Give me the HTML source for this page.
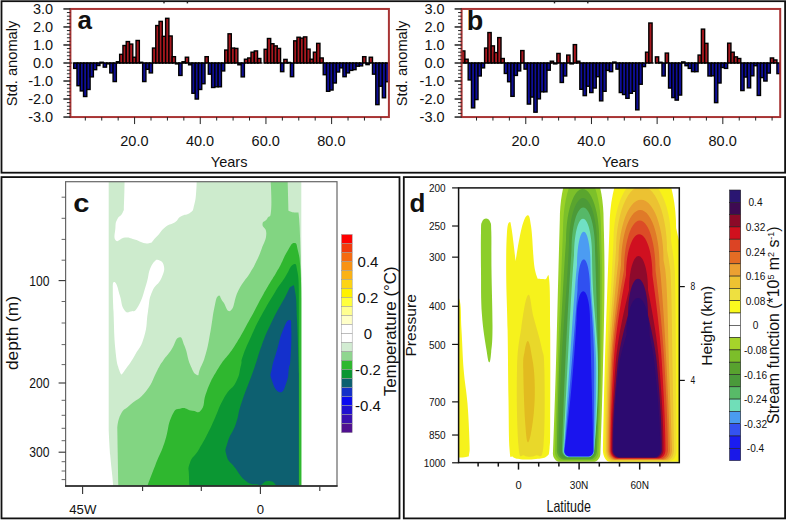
<!DOCTYPE html><html><head><meta charset="utf-8"><style>html,body{margin:0;padding:0;background:#fff;}svg{display:block;}</style></head><body>
<svg width="787" height="520" viewBox="0 0 787 520" font-family='"Liberation Sans", sans-serif' fill="#111">
<rect x="0" y="0" width="787" height="520" fill="#fff"/>
<rect x="1.5" y="1.2" width="783.6" height="171.5" fill="none" stroke="#111" stroke-width="1.8"/>
<rect x="1.5" y="177.1" width="398" height="341.3" fill="none" stroke="#111" stroke-width="1.8"/>
<rect x="403.8" y="177.1" width="381.3" height="341.3" fill="none" stroke="#111" stroke-width="1.8"/>
<rect x="163.3" y="1.8" width="1.4" height="1.6" fill="#222"/>
<rect x="186.7" y="1.8" width="1.4" height="1.6" fill="#222"/>
<rect x="553.8" y="1.8" width="1.4" height="1.6" fill="#222"/>
<rect x="587.1" y="1.8" width="1.4" height="1.6" fill="#222"/>
<rect x="73.68" y="63.00" width="3.28" height="5.40" fill="#0e0e98" stroke="#000" stroke-width="1.4"/>
<rect x="76.97" y="63.00" width="3.28" height="22.70" fill="#0e0e98" stroke="#000" stroke-width="1.4"/>
<rect x="80.25" y="63.00" width="3.28" height="27.93" fill="#0e0e98" stroke="#000" stroke-width="1.4"/>
<rect x="83.53" y="63.00" width="3.28" height="33.51" fill="#0e0e98" stroke="#000" stroke-width="1.4"/>
<rect x="86.82" y="63.00" width="3.28" height="26.48" fill="#0e0e98" stroke="#000" stroke-width="1.4"/>
<rect x="90.10" y="63.00" width="3.28" height="13.87" fill="#0e0e98" stroke="#000" stroke-width="1.4"/>
<rect x="93.38" y="63.00" width="3.28" height="6.67" fill="#0e0e98" stroke="#000" stroke-width="1.4"/>
<rect x="96.67" y="63.00" width="3.28" height="2.52" fill="#0e0e98" stroke="#000" stroke-width="1.4"/>
<rect x="99.95" y="62.28" width="3.28" height="0.72" fill="#a8181f" stroke="#000" stroke-width="1.4"/>
<rect x="103.24" y="63.00" width="3.28" height="4.14" fill="#0e0e98" stroke="#000" stroke-width="1.4"/>
<rect x="106.52" y="63.00" width="3.28" height="0.90" fill="#0e0e98" stroke="#000" stroke-width="1.4"/>
<rect x="109.80" y="63.00" width="3.28" height="9.91" fill="#0e0e98" stroke="#000" stroke-width="1.4"/>
<rect x="113.09" y="63.00" width="3.28" height="18.56" fill="#0e0e98" stroke="#000" stroke-width="1.4"/>
<rect x="116.37" y="61.74" width="3.28" height="1.26" fill="#a8181f" stroke="#000" stroke-width="1.4"/>
<rect x="119.65" y="54.35" width="3.28" height="8.65" fill="#a8181f" stroke="#000" stroke-width="1.4"/>
<rect x="122.94" y="45.52" width="3.28" height="17.48" fill="#a8181f" stroke="#000" stroke-width="1.4"/>
<rect x="126.22" y="41.56" width="3.28" height="21.44" fill="#a8181f" stroke="#000" stroke-width="1.4"/>
<rect x="129.50" y="44.08" width="3.28" height="18.92" fill="#a8181f" stroke="#000" stroke-width="1.4"/>
<rect x="132.79" y="57.23" width="3.28" height="5.77" fill="#a8181f" stroke="#000" stroke-width="1.4"/>
<rect x="136.07" y="40.48" width="3.28" height="22.52" fill="#a8181f" stroke="#000" stroke-width="1.4"/>
<rect x="139.35" y="62.28" width="3.28" height="0.72" fill="#a8181f" stroke="#000" stroke-width="1.4"/>
<rect x="142.64" y="63.00" width="3.28" height="18.56" fill="#0e0e98" stroke="#000" stroke-width="1.4"/>
<rect x="145.92" y="63.00" width="3.28" height="6.31" fill="#0e0e98" stroke="#000" stroke-width="1.4"/>
<rect x="149.20" y="63.00" width="3.28" height="9.91" fill="#0e0e98" stroke="#000" stroke-width="1.4"/>
<rect x="152.49" y="48.05" width="3.28" height="14.95" fill="#a8181f" stroke="#000" stroke-width="1.4"/>
<rect x="155.77" y="25.53" width="3.28" height="37.47" fill="#a8181f" stroke="#000" stroke-width="1.4"/>
<rect x="159.05" y="21.38" width="3.28" height="41.62" fill="#a8181f" stroke="#000" stroke-width="1.4"/>
<rect x="162.34" y="36.34" width="3.28" height="26.66" fill="#a8181f" stroke="#000" stroke-width="1.4"/>
<rect x="165.62" y="18.32" width="3.28" height="44.68" fill="#a8181f" stroke="#000" stroke-width="1.4"/>
<rect x="168.91" y="35.98" width="3.28" height="27.02" fill="#a8181f" stroke="#000" stroke-width="1.4"/>
<rect x="172.19" y="56.69" width="3.28" height="6.31" fill="#a8181f" stroke="#000" stroke-width="1.4"/>
<rect x="175.47" y="63.00" width="3.28" height="0.90" fill="#0e0e98" stroke="#000" stroke-width="1.4"/>
<rect x="178.76" y="63.00" width="3.28" height="12.43" fill="#0e0e98" stroke="#000" stroke-width="1.4"/>
<rect x="182.04" y="61.74" width="3.28" height="1.26" fill="#a8181f" stroke="#000" stroke-width="1.4"/>
<rect x="185.32" y="57.23" width="3.28" height="5.77" fill="#a8181f" stroke="#000" stroke-width="1.4"/>
<rect x="188.61" y="63.00" width="3.28" height="1.80" fill="#0e0e98" stroke="#000" stroke-width="1.4"/>
<rect x="191.89" y="63.00" width="3.28" height="30.27" fill="#0e0e98" stroke="#000" stroke-width="1.4"/>
<rect x="195.17" y="63.00" width="3.28" height="36.03" fill="#0e0e98" stroke="#000" stroke-width="1.4"/>
<rect x="198.46" y="63.00" width="3.28" height="26.48" fill="#0e0e98" stroke="#000" stroke-width="1.4"/>
<rect x="201.74" y="63.00" width="3.28" height="20.72" fill="#0e0e98" stroke="#000" stroke-width="1.4"/>
<rect x="205.02" y="56.69" width="3.28" height="6.31" fill="#a8181f" stroke="#000" stroke-width="1.4"/>
<rect x="208.31" y="63.00" width="3.28" height="11.17" fill="#0e0e98" stroke="#000" stroke-width="1.4"/>
<rect x="211.59" y="63.00" width="3.28" height="24.50" fill="#0e0e98" stroke="#000" stroke-width="1.4"/>
<rect x="214.87" y="63.00" width="3.28" height="23.78" fill="#0e0e98" stroke="#000" stroke-width="1.4"/>
<rect x="218.16" y="63.00" width="3.28" height="23.78" fill="#0e0e98" stroke="#000" stroke-width="1.4"/>
<rect x="221.44" y="63.00" width="3.28" height="7.93" fill="#0e0e98" stroke="#000" stroke-width="1.4"/>
<rect x="224.72" y="50.03" width="3.28" height="12.97" fill="#a8181f" stroke="#000" stroke-width="1.4"/>
<rect x="228.01" y="33.81" width="3.28" height="29.19" fill="#a8181f" stroke="#000" stroke-width="1.4"/>
<rect x="231.29" y="48.05" width="3.28" height="14.95" fill="#a8181f" stroke="#000" stroke-width="1.4"/>
<rect x="234.58" y="48.41" width="3.28" height="14.59" fill="#a8181f" stroke="#000" stroke-width="1.4"/>
<rect x="237.86" y="63.00" width="3.28" height="1.80" fill="#0e0e98" stroke="#000" stroke-width="1.4"/>
<rect x="241.14" y="63.00" width="3.28" height="13.87" fill="#0e0e98" stroke="#000" stroke-width="1.4"/>
<rect x="244.43" y="59.22" width="3.28" height="3.78" fill="#a8181f" stroke="#000" stroke-width="1.4"/>
<rect x="247.71" y="57.96" width="3.28" height="5.04" fill="#a8181f" stroke="#000" stroke-width="1.4"/>
<rect x="250.99" y="52.19" width="3.28" height="10.81" fill="#a8181f" stroke="#000" stroke-width="1.4"/>
<rect x="254.28" y="50.93" width="3.28" height="12.07" fill="#a8181f" stroke="#000" stroke-width="1.4"/>
<rect x="257.56" y="58.50" width="3.28" height="4.50" fill="#a8181f" stroke="#000" stroke-width="1.4"/>
<rect x="264.13" y="49.31" width="3.28" height="13.69" fill="#a8181f" stroke="#000" stroke-width="1.4"/>
<rect x="267.41" y="38.50" width="3.28" height="24.50" fill="#a8181f" stroke="#000" stroke-width="1.4"/>
<rect x="270.69" y="43.72" width="3.28" height="19.28" fill="#a8181f" stroke="#000" stroke-width="1.4"/>
<rect x="273.98" y="45.88" width="3.28" height="17.12" fill="#a8181f" stroke="#000" stroke-width="1.4"/>
<rect x="277.26" y="48.41" width="3.28" height="14.59" fill="#a8181f" stroke="#000" stroke-width="1.4"/>
<rect x="280.54" y="63.00" width="3.28" height="8.65" fill="#0e0e98" stroke="#000" stroke-width="1.4"/>
<rect x="283.83" y="59.40" width="3.28" height="3.60" fill="#a8181f" stroke="#000" stroke-width="1.4"/>
<rect x="287.11" y="62.46" width="3.28" height="0.54" fill="#a8181f" stroke="#000" stroke-width="1.4"/>
<rect x="290.39" y="63.00" width="3.28" height="13.69" fill="#0e0e98" stroke="#000" stroke-width="1.4"/>
<rect x="293.68" y="40.84" width="3.28" height="22.16" fill="#a8181f" stroke="#000" stroke-width="1.4"/>
<rect x="296.96" y="37.24" width="3.28" height="25.76" fill="#a8181f" stroke="#000" stroke-width="1.4"/>
<rect x="300.25" y="38.14" width="3.28" height="24.86" fill="#a8181f" stroke="#000" stroke-width="1.4"/>
<rect x="303.53" y="36.88" width="3.28" height="26.12" fill="#a8181f" stroke="#000" stroke-width="1.4"/>
<rect x="306.81" y="49.13" width="3.28" height="13.87" fill="#a8181f" stroke="#000" stroke-width="1.4"/>
<rect x="310.10" y="59.22" width="3.28" height="3.78" fill="#a8181f" stroke="#000" stroke-width="1.4"/>
<rect x="313.38" y="52.19" width="3.28" height="10.81" fill="#a8181f" stroke="#000" stroke-width="1.4"/>
<rect x="316.66" y="43.36" width="3.28" height="19.64" fill="#a8181f" stroke="#000" stroke-width="1.4"/>
<rect x="319.95" y="57.96" width="3.28" height="5.04" fill="#a8181f" stroke="#000" stroke-width="1.4"/>
<rect x="323.23" y="63.00" width="3.28" height="11.71" fill="#0e0e98" stroke="#000" stroke-width="1.4"/>
<rect x="326.51" y="63.00" width="3.28" height="28.29" fill="#0e0e98" stroke="#000" stroke-width="1.4"/>
<rect x="329.80" y="63.00" width="3.28" height="27.02" fill="#0e0e98" stroke="#000" stroke-width="1.4"/>
<rect x="333.08" y="63.00" width="3.28" height="20.00" fill="#0e0e98" stroke="#000" stroke-width="1.4"/>
<rect x="336.36" y="63.00" width="3.28" height="9.01" fill="#0e0e98" stroke="#000" stroke-width="1.4"/>
<rect x="339.65" y="63.00" width="3.28" height="4.86" fill="#0e0e98" stroke="#000" stroke-width="1.4"/>
<rect x="342.93" y="63.00" width="3.28" height="13.69" fill="#0e0e98" stroke="#000" stroke-width="1.4"/>
<rect x="346.21" y="63.00" width="3.28" height="9.91" fill="#0e0e98" stroke="#000" stroke-width="1.4"/>
<rect x="349.50" y="63.00" width="3.28" height="7.39" fill="#0e0e98" stroke="#000" stroke-width="1.4"/>
<rect x="352.78" y="63.00" width="3.28" height="6.67" fill="#0e0e98" stroke="#000" stroke-width="1.4"/>
<rect x="356.06" y="63.00" width="3.28" height="3.24" fill="#0e0e98" stroke="#000" stroke-width="1.4"/>
<rect x="359.35" y="63.00" width="3.28" height="2.88" fill="#0e0e98" stroke="#000" stroke-width="1.4"/>
<rect x="362.63" y="56.69" width="3.28" height="6.31" fill="#a8181f" stroke="#000" stroke-width="1.4"/>
<rect x="365.92" y="63.00" width="3.28" height="1.62" fill="#0e0e98" stroke="#000" stroke-width="1.4"/>
<rect x="369.20" y="57.23" width="3.28" height="5.77" fill="#a8181f" stroke="#000" stroke-width="1.4"/>
<rect x="372.48" y="63.00" width="3.28" height="11.17" fill="#0e0e98" stroke="#000" stroke-width="1.4"/>
<rect x="375.77" y="63.00" width="3.28" height="41.62" fill="#0e0e98" stroke="#000" stroke-width="1.4"/>
<rect x="379.05" y="63.00" width="3.28" height="23.24" fill="#0e0e98" stroke="#000" stroke-width="1.4"/>
<rect x="382.33" y="63.00" width="3.28" height="34.77" fill="#0e0e98" stroke="#000" stroke-width="1.4"/>
<rect x="385.62" y="63.00" width="3.28" height="18.74" fill="#0e0e98" stroke="#000" stroke-width="1.4"/>
<line x1="70.4" y1="63.00" x2="388.9" y2="63.00" stroke="#000" stroke-width="1" stroke-dasharray="1.97 1.31"/>
<rect x="70.4" y="8.95" width="318.50" height="108.10" fill="none" stroke="#a83434" stroke-width="2"/>
<line x1="63.400000000000006" y1="8.95" x2="70.4" y2="8.95" stroke="#222" stroke-width="1.5"/>
<line x1="66.9" y1="12.55" x2="70.4" y2="12.55" stroke="#222" stroke-width="1.0"/>
<line x1="66.9" y1="16.16" x2="70.4" y2="16.16" stroke="#222" stroke-width="1.0"/>
<line x1="66.9" y1="19.76" x2="70.4" y2="19.76" stroke="#222" stroke-width="1.0"/>
<line x1="66.9" y1="23.36" x2="70.4" y2="23.36" stroke="#222" stroke-width="1.0"/>
<line x1="63.400000000000006" y1="26.97" x2="70.4" y2="26.97" stroke="#222" stroke-width="1.5"/>
<line x1="66.9" y1="30.57" x2="70.4" y2="30.57" stroke="#222" stroke-width="1.0"/>
<line x1="66.9" y1="34.17" x2="70.4" y2="34.17" stroke="#222" stroke-width="1.0"/>
<line x1="66.9" y1="37.78" x2="70.4" y2="37.78" stroke="#222" stroke-width="1.0"/>
<line x1="66.9" y1="41.38" x2="70.4" y2="41.38" stroke="#222" stroke-width="1.0"/>
<line x1="63.400000000000006" y1="44.98" x2="70.4" y2="44.98" stroke="#222" stroke-width="1.5"/>
<line x1="66.9" y1="48.59" x2="70.4" y2="48.59" stroke="#222" stroke-width="1.0"/>
<line x1="66.9" y1="52.19" x2="70.4" y2="52.19" stroke="#222" stroke-width="1.0"/>
<line x1="66.9" y1="55.79" x2="70.4" y2="55.79" stroke="#222" stroke-width="1.0"/>
<line x1="66.9" y1="59.40" x2="70.4" y2="59.40" stroke="#222" stroke-width="1.0"/>
<line x1="63.400000000000006" y1="63.00" x2="70.4" y2="63.00" stroke="#222" stroke-width="1.5"/>
<line x1="66.9" y1="66.60" x2="70.4" y2="66.60" stroke="#222" stroke-width="1.0"/>
<line x1="66.9" y1="70.21" x2="70.4" y2="70.21" stroke="#222" stroke-width="1.0"/>
<line x1="66.9" y1="73.81" x2="70.4" y2="73.81" stroke="#222" stroke-width="1.0"/>
<line x1="66.9" y1="77.41" x2="70.4" y2="77.41" stroke="#222" stroke-width="1.0"/>
<line x1="63.400000000000006" y1="81.02" x2="70.4" y2="81.02" stroke="#222" stroke-width="1.5"/>
<line x1="66.9" y1="84.62" x2="70.4" y2="84.62" stroke="#222" stroke-width="1.0"/>
<line x1="66.9" y1="88.22" x2="70.4" y2="88.22" stroke="#222" stroke-width="1.0"/>
<line x1="66.9" y1="91.83" x2="70.4" y2="91.83" stroke="#222" stroke-width="1.0"/>
<line x1="66.9" y1="95.43" x2="70.4" y2="95.43" stroke="#222" stroke-width="1.0"/>
<line x1="63.400000000000006" y1="99.03" x2="70.4" y2="99.03" stroke="#222" stroke-width="1.5"/>
<line x1="66.9" y1="102.64" x2="70.4" y2="102.64" stroke="#222" stroke-width="1.0"/>
<line x1="66.9" y1="106.24" x2="70.4" y2="106.24" stroke="#222" stroke-width="1.0"/>
<line x1="66.9" y1="109.84" x2="70.4" y2="109.84" stroke="#222" stroke-width="1.0"/>
<line x1="66.9" y1="113.45" x2="70.4" y2="113.45" stroke="#222" stroke-width="1.0"/>
<line x1="63.400000000000006" y1="117.05" x2="70.4" y2="117.05" stroke="#222" stroke-width="1.5"/>
<text x="53.2" y="13.95" text-anchor="end" font-size="14.5">3.0</text>
<text x="53.2" y="31.97" text-anchor="end" font-size="14.5">2.0</text>
<text x="53.2" y="49.98" text-anchor="end" font-size="14.5">1.0</text>
<text x="53.2" y="68.00" text-anchor="end" font-size="14.5">0.0</text>
<text x="53.2" y="86.02" text-anchor="end" font-size="14.5">-1.0</text>
<text x="53.2" y="104.03" text-anchor="end" font-size="14.5">-2.0</text>
<text x="53.2" y="122.05" text-anchor="end" font-size="14.5">-3.0</text>
<line x1="85.32" y1="117.05" x2="85.32" y2="120.55" stroke="#222" stroke-width="1"/>
<line x1="101.74" y1="117.05" x2="101.74" y2="120.55" stroke="#222" stroke-width="1"/>
<line x1="118.16" y1="117.05" x2="118.16" y2="120.55" stroke="#222" stroke-width="1"/>
<line x1="134.58" y1="117.05" x2="134.58" y2="124.05" stroke="#222" stroke-width="1"/>
<text x="134.38" y="146.2" text-anchor="middle" font-size="14.5">20.0</text>
<line x1="151.00" y1="117.05" x2="151.00" y2="120.55" stroke="#222" stroke-width="1"/>
<line x1="167.42" y1="117.05" x2="167.42" y2="120.55" stroke="#222" stroke-width="1"/>
<line x1="183.84" y1="117.05" x2="183.84" y2="120.55" stroke="#222" stroke-width="1"/>
<line x1="200.26" y1="117.05" x2="200.26" y2="124.05" stroke="#222" stroke-width="1"/>
<text x="200.06" y="146.2" text-anchor="middle" font-size="14.5">40.0</text>
<line x1="216.68" y1="117.05" x2="216.68" y2="120.55" stroke="#222" stroke-width="1"/>
<line x1="233.10" y1="117.05" x2="233.10" y2="120.55" stroke="#222" stroke-width="1"/>
<line x1="249.52" y1="117.05" x2="249.52" y2="120.55" stroke="#222" stroke-width="1"/>
<line x1="265.94" y1="117.05" x2="265.94" y2="124.05" stroke="#222" stroke-width="1"/>
<text x="265.74" y="146.2" text-anchor="middle" font-size="14.5">60.0</text>
<line x1="282.36" y1="117.05" x2="282.36" y2="120.55" stroke="#222" stroke-width="1"/>
<line x1="298.78" y1="117.05" x2="298.78" y2="120.55" stroke="#222" stroke-width="1"/>
<line x1="315.20" y1="117.05" x2="315.20" y2="120.55" stroke="#222" stroke-width="1"/>
<line x1="331.62" y1="117.05" x2="331.62" y2="124.05" stroke="#222" stroke-width="1"/>
<text x="331.42" y="146.2" text-anchor="middle" font-size="14.5">80.0</text>
<line x1="348.04" y1="117.05" x2="348.04" y2="120.55" stroke="#222" stroke-width="1"/>
<line x1="364.46" y1="117.05" x2="364.46" y2="120.55" stroke="#222" stroke-width="1"/>
<line x1="380.88" y1="117.05" x2="380.88" y2="120.55" stroke="#222" stroke-width="1"/>
<text x="229.15" y="167.4" text-anchor="middle" font-size="14.5">Years</text>
<text transform="translate(17.2,63.4) rotate(-90)" text-anchor="middle" font-size="15.3" textLength="85.5" lengthAdjust="spacingAndGlyphs">Std. anomaly</text>
<text x="77.40" y="28.8" font-size="26" font-weight="bold">a</text>
<rect x="461.60" y="50.93" width="3.28" height="12.07" fill="#a8181f" stroke="#000" stroke-width="1.4"/>
<rect x="464.88" y="59.22" width="3.28" height="3.78" fill="#a8181f" stroke="#000" stroke-width="1.4"/>
<rect x="468.17" y="63.00" width="3.28" height="16.94" fill="#0e0e98" stroke="#000" stroke-width="1.4"/>
<rect x="471.45" y="63.00" width="3.28" height="44.86" fill="#0e0e98" stroke="#000" stroke-width="1.4"/>
<rect x="474.74" y="63.00" width="3.28" height="36.57" fill="#0e0e98" stroke="#000" stroke-width="1.4"/>
<rect x="478.02" y="63.00" width="3.28" height="12.97" fill="#0e0e98" stroke="#000" stroke-width="1.4"/>
<rect x="481.31" y="63.00" width="3.28" height="4.86" fill="#0e0e98" stroke="#000" stroke-width="1.4"/>
<rect x="484.59" y="48.05" width="3.28" height="14.95" fill="#a8181f" stroke="#000" stroke-width="1.4"/>
<rect x="487.88" y="32.55" width="3.28" height="30.45" fill="#a8181f" stroke="#000" stroke-width="1.4"/>
<rect x="491.16" y="45.88" width="3.28" height="17.12" fill="#a8181f" stroke="#000" stroke-width="1.4"/>
<rect x="494.45" y="52.55" width="3.28" height="10.45" fill="#a8181f" stroke="#000" stroke-width="1.4"/>
<rect x="497.73" y="37.60" width="3.28" height="25.40" fill="#a8181f" stroke="#000" stroke-width="1.4"/>
<rect x="501.01" y="58.50" width="3.28" height="4.50" fill="#a8181f" stroke="#000" stroke-width="1.4"/>
<rect x="504.30" y="63.00" width="3.28" height="10.45" fill="#0e0e98" stroke="#000" stroke-width="1.4"/>
<rect x="507.58" y="63.00" width="3.28" height="18.74" fill="#0e0e98" stroke="#000" stroke-width="1.4"/>
<rect x="510.87" y="63.00" width="3.28" height="33.33" fill="#0e0e98" stroke="#000" stroke-width="1.4"/>
<rect x="514.15" y="63.00" width="3.28" height="12.43" fill="#0e0e98" stroke="#000" stroke-width="1.4"/>
<rect x="517.44" y="63.00" width="3.28" height="7.93" fill="#0e0e98" stroke="#000" stroke-width="1.4"/>
<rect x="520.72" y="50.57" width="3.28" height="12.43" fill="#a8181f" stroke="#000" stroke-width="1.4"/>
<rect x="524.01" y="63.00" width="3.28" height="6.13" fill="#0e0e98" stroke="#000" stroke-width="1.4"/>
<rect x="527.29" y="63.00" width="3.28" height="41.08" fill="#0e0e98" stroke="#000" stroke-width="1.4"/>
<rect x="530.58" y="63.00" width="3.28" height="34.05" fill="#0e0e98" stroke="#000" stroke-width="1.4"/>
<rect x="533.86" y="63.00" width="3.28" height="49.19" fill="#0e0e98" stroke="#000" stroke-width="1.4"/>
<rect x="537.14" y="63.00" width="3.28" height="35.85" fill="#0e0e98" stroke="#000" stroke-width="1.4"/>
<rect x="540.43" y="63.00" width="3.28" height="28.83" fill="#0e0e98" stroke="#000" stroke-width="1.4"/>
<rect x="543.71" y="63.00" width="3.28" height="28.83" fill="#0e0e98" stroke="#000" stroke-width="1.4"/>
<rect x="547.00" y="63.00" width="3.28" height="7.21" fill="#0e0e98" stroke="#000" stroke-width="1.4"/>
<rect x="550.28" y="61.20" width="3.28" height="1.80" fill="#a8181f" stroke="#000" stroke-width="1.4"/>
<rect x="553.57" y="63.00" width="3.28" height="0.90" fill="#0e0e98" stroke="#000" stroke-width="1.4"/>
<rect x="556.85" y="53.45" width="3.28" height="9.55" fill="#a8181f" stroke="#000" stroke-width="1.4"/>
<rect x="560.14" y="63.00" width="3.28" height="19.46" fill="#0e0e98" stroke="#000" stroke-width="1.4"/>
<rect x="563.42" y="63.00" width="3.28" height="12.97" fill="#0e0e98" stroke="#000" stroke-width="1.4"/>
<rect x="566.71" y="55.07" width="3.28" height="7.93" fill="#a8181f" stroke="#000" stroke-width="1.4"/>
<rect x="569.99" y="63.00" width="3.28" height="0.90" fill="#0e0e98" stroke="#000" stroke-width="1.4"/>
<rect x="573.27" y="44.62" width="3.28" height="18.38" fill="#a8181f" stroke="#000" stroke-width="1.4"/>
<rect x="576.56" y="61.20" width="3.28" height="1.80" fill="#a8181f" stroke="#000" stroke-width="1.4"/>
<rect x="579.84" y="63.00" width="3.28" height="26.30" fill="#0e0e98" stroke="#000" stroke-width="1.4"/>
<rect x="583.13" y="63.00" width="3.28" height="32.61" fill="#0e0e98" stroke="#000" stroke-width="1.4"/>
<rect x="586.41" y="63.00" width="3.28" height="23.24" fill="#0e0e98" stroke="#000" stroke-width="1.4"/>
<rect x="589.70" y="63.00" width="3.28" height="29.55" fill="#0e0e98" stroke="#000" stroke-width="1.4"/>
<rect x="592.98" y="63.00" width="3.28" height="25.04" fill="#0e0e98" stroke="#000" stroke-width="1.4"/>
<rect x="596.27" y="63.00" width="3.28" height="13.69" fill="#0e0e98" stroke="#000" stroke-width="1.4"/>
<rect x="599.55" y="63.00" width="3.28" height="37.84" fill="#0e0e98" stroke="#000" stroke-width="1.4"/>
<rect x="602.84" y="63.00" width="3.28" height="28.29" fill="#0e0e98" stroke="#000" stroke-width="1.4"/>
<rect x="606.12" y="63.00" width="3.28" height="7.39" fill="#0e0e98" stroke="#000" stroke-width="1.4"/>
<rect x="609.40" y="63.00" width="3.28" height="8.65" fill="#0e0e98" stroke="#000" stroke-width="1.4"/>
<rect x="612.69" y="62.10" width="3.28" height="0.90" fill="#a8181f" stroke="#000" stroke-width="1.4"/>
<rect x="615.97" y="63.00" width="3.28" height="6.13" fill="#0e0e98" stroke="#000" stroke-width="1.4"/>
<rect x="619.26" y="63.00" width="3.28" height="29.55" fill="#0e0e98" stroke="#000" stroke-width="1.4"/>
<rect x="622.54" y="63.00" width="3.28" height="31.53" fill="#0e0e98" stroke="#000" stroke-width="1.4"/>
<rect x="625.83" y="63.00" width="3.28" height="35.31" fill="#0e0e98" stroke="#000" stroke-width="1.4"/>
<rect x="629.11" y="63.00" width="3.28" height="30.27" fill="#0e0e98" stroke="#000" stroke-width="1.4"/>
<rect x="632.40" y="63.00" width="3.28" height="28.29" fill="#0e0e98" stroke="#000" stroke-width="1.4"/>
<rect x="635.68" y="63.00" width="3.28" height="46.84" fill="#0e0e98" stroke="#000" stroke-width="1.4"/>
<rect x="638.96" y="63.00" width="3.28" height="21.26" fill="#0e0e98" stroke="#000" stroke-width="1.4"/>
<rect x="642.25" y="63.00" width="3.28" height="3.60" fill="#0e0e98" stroke="#000" stroke-width="1.4"/>
<rect x="645.53" y="52.19" width="3.28" height="10.81" fill="#a8181f" stroke="#000" stroke-width="1.4"/>
<rect x="648.82" y="23.00" width="3.28" height="40.00" fill="#a8181f" stroke="#000" stroke-width="1.4"/>
<rect x="655.39" y="56.87" width="3.28" height="6.13" fill="#a8181f" stroke="#000" stroke-width="1.4"/>
<rect x="658.67" y="62.28" width="3.28" height="0.72" fill="#a8181f" stroke="#000" stroke-width="1.4"/>
<rect x="661.96" y="63.00" width="3.28" height="12.97" fill="#0e0e98" stroke="#000" stroke-width="1.4"/>
<rect x="665.24" y="53.09" width="3.28" height="9.91" fill="#a8181f" stroke="#000" stroke-width="1.4"/>
<rect x="668.53" y="63.00" width="3.28" height="25.04" fill="#0e0e98" stroke="#000" stroke-width="1.4"/>
<rect x="671.81" y="63.00" width="3.28" height="34.59" fill="#0e0e98" stroke="#000" stroke-width="1.4"/>
<rect x="675.09" y="63.00" width="3.28" height="37.11" fill="#0e0e98" stroke="#000" stroke-width="1.4"/>
<rect x="678.38" y="63.00" width="3.28" height="32.07" fill="#0e0e98" stroke="#000" stroke-width="1.4"/>
<rect x="681.66" y="61.92" width="3.28" height="1.08" fill="#a8181f" stroke="#000" stroke-width="1.4"/>
<rect x="684.95" y="63.00" width="3.28" height="2.70" fill="#0e0e98" stroke="#000" stroke-width="1.4"/>
<rect x="688.23" y="63.00" width="3.28" height="5.40" fill="#0e0e98" stroke="#000" stroke-width="1.4"/>
<rect x="691.52" y="63.00" width="3.28" height="8.65" fill="#0e0e98" stroke="#000" stroke-width="1.4"/>
<rect x="694.80" y="63.00" width="3.28" height="8.65" fill="#0e0e98" stroke="#000" stroke-width="1.4"/>
<rect x="698.09" y="55.07" width="3.28" height="7.93" fill="#a8181f" stroke="#000" stroke-width="1.4"/>
<rect x="701.37" y="29.13" width="3.28" height="33.87" fill="#a8181f" stroke="#000" stroke-width="1.4"/>
<rect x="704.66" y="43.36" width="3.28" height="19.64" fill="#a8181f" stroke="#000" stroke-width="1.4"/>
<rect x="707.94" y="63.00" width="3.28" height="12.97" fill="#0e0e98" stroke="#000" stroke-width="1.4"/>
<rect x="711.22" y="63.00" width="3.28" height="12.79" fill="#0e0e98" stroke="#000" stroke-width="1.4"/>
<rect x="714.51" y="63.00" width="3.28" height="39.64" fill="#0e0e98" stroke="#000" stroke-width="1.4"/>
<rect x="717.79" y="63.00" width="3.28" height="20.00" fill="#0e0e98" stroke="#000" stroke-width="1.4"/>
<rect x="721.08" y="63.00" width="3.28" height="4.50" fill="#0e0e98" stroke="#000" stroke-width="1.4"/>
<rect x="724.36" y="63.00" width="3.28" height="5.40" fill="#0e0e98" stroke="#000" stroke-width="1.4"/>
<rect x="727.65" y="43.18" width="3.28" height="19.82" fill="#a8181f" stroke="#000" stroke-width="1.4"/>
<rect x="730.93" y="52.19" width="3.28" height="10.81" fill="#a8181f" stroke="#000" stroke-width="1.4"/>
<rect x="734.22" y="56.87" width="3.28" height="6.13" fill="#a8181f" stroke="#000" stroke-width="1.4"/>
<rect x="737.50" y="58.50" width="3.28" height="4.50" fill="#a8181f" stroke="#000" stroke-width="1.4"/>
<rect x="740.79" y="63.00" width="3.28" height="27.57" fill="#0e0e98" stroke="#000" stroke-width="1.4"/>
<rect x="744.07" y="63.00" width="3.28" height="14.05" fill="#0e0e98" stroke="#000" stroke-width="1.4"/>
<rect x="747.35" y="63.00" width="3.28" height="24.86" fill="#0e0e98" stroke="#000" stroke-width="1.4"/>
<rect x="750.64" y="63.00" width="3.28" height="12.79" fill="#0e0e98" stroke="#000" stroke-width="1.4"/>
<rect x="753.92" y="63.00" width="3.28" height="2.70" fill="#0e0e98" stroke="#000" stroke-width="1.4"/>
<rect x="757.21" y="63.00" width="3.28" height="32.43" fill="#0e0e98" stroke="#000" stroke-width="1.4"/>
<rect x="760.49" y="63.00" width="3.28" height="14.59" fill="#0e0e98" stroke="#000" stroke-width="1.4"/>
<rect x="763.78" y="63.00" width="3.28" height="18.02" fill="#0e0e98" stroke="#000" stroke-width="1.4"/>
<rect x="767.06" y="63.00" width="3.28" height="10.09" fill="#0e0e98" stroke="#000" stroke-width="1.4"/>
<rect x="770.35" y="57.96" width="3.28" height="5.04" fill="#a8181f" stroke="#000" stroke-width="1.4"/>
<rect x="773.63" y="59.94" width="3.28" height="3.06" fill="#a8181f" stroke="#000" stroke-width="1.4"/>
<rect x="776.92" y="63.00" width="3.28" height="10.63" fill="#0e0e98" stroke="#000" stroke-width="1.4"/>
<line x1="461.6" y1="63.00" x2="780.2" y2="63.00" stroke="#000" stroke-width="1" stroke-dasharray="1.97 1.31"/>
<rect x="461.6" y="8.95" width="318.60" height="108.10" fill="none" stroke="#a83434" stroke-width="2"/>
<line x1="454.6" y1="8.95" x2="461.6" y2="8.95" stroke="#222" stroke-width="1.5"/>
<line x1="458.1" y1="12.55" x2="461.6" y2="12.55" stroke="#222" stroke-width="1.0"/>
<line x1="458.1" y1="16.16" x2="461.6" y2="16.16" stroke="#222" stroke-width="1.0"/>
<line x1="458.1" y1="19.76" x2="461.6" y2="19.76" stroke="#222" stroke-width="1.0"/>
<line x1="458.1" y1="23.36" x2="461.6" y2="23.36" stroke="#222" stroke-width="1.0"/>
<line x1="454.6" y1="26.97" x2="461.6" y2="26.97" stroke="#222" stroke-width="1.5"/>
<line x1="458.1" y1="30.57" x2="461.6" y2="30.57" stroke="#222" stroke-width="1.0"/>
<line x1="458.1" y1="34.17" x2="461.6" y2="34.17" stroke="#222" stroke-width="1.0"/>
<line x1="458.1" y1="37.78" x2="461.6" y2="37.78" stroke="#222" stroke-width="1.0"/>
<line x1="458.1" y1="41.38" x2="461.6" y2="41.38" stroke="#222" stroke-width="1.0"/>
<line x1="454.6" y1="44.98" x2="461.6" y2="44.98" stroke="#222" stroke-width="1.5"/>
<line x1="458.1" y1="48.59" x2="461.6" y2="48.59" stroke="#222" stroke-width="1.0"/>
<line x1="458.1" y1="52.19" x2="461.6" y2="52.19" stroke="#222" stroke-width="1.0"/>
<line x1="458.1" y1="55.79" x2="461.6" y2="55.79" stroke="#222" stroke-width="1.0"/>
<line x1="458.1" y1="59.40" x2="461.6" y2="59.40" stroke="#222" stroke-width="1.0"/>
<line x1="454.6" y1="63.00" x2="461.6" y2="63.00" stroke="#222" stroke-width="1.5"/>
<line x1="458.1" y1="66.60" x2="461.6" y2="66.60" stroke="#222" stroke-width="1.0"/>
<line x1="458.1" y1="70.21" x2="461.6" y2="70.21" stroke="#222" stroke-width="1.0"/>
<line x1="458.1" y1="73.81" x2="461.6" y2="73.81" stroke="#222" stroke-width="1.0"/>
<line x1="458.1" y1="77.41" x2="461.6" y2="77.41" stroke="#222" stroke-width="1.0"/>
<line x1="454.6" y1="81.02" x2="461.6" y2="81.02" stroke="#222" stroke-width="1.5"/>
<line x1="458.1" y1="84.62" x2="461.6" y2="84.62" stroke="#222" stroke-width="1.0"/>
<line x1="458.1" y1="88.22" x2="461.6" y2="88.22" stroke="#222" stroke-width="1.0"/>
<line x1="458.1" y1="91.83" x2="461.6" y2="91.83" stroke="#222" stroke-width="1.0"/>
<line x1="458.1" y1="95.43" x2="461.6" y2="95.43" stroke="#222" stroke-width="1.0"/>
<line x1="454.6" y1="99.03" x2="461.6" y2="99.03" stroke="#222" stroke-width="1.5"/>
<line x1="458.1" y1="102.64" x2="461.6" y2="102.64" stroke="#222" stroke-width="1.0"/>
<line x1="458.1" y1="106.24" x2="461.6" y2="106.24" stroke="#222" stroke-width="1.0"/>
<line x1="458.1" y1="109.84" x2="461.6" y2="109.84" stroke="#222" stroke-width="1.0"/>
<line x1="458.1" y1="113.45" x2="461.6" y2="113.45" stroke="#222" stroke-width="1.0"/>
<line x1="454.6" y1="117.05" x2="461.6" y2="117.05" stroke="#222" stroke-width="1.5"/>
<text x="444.6" y="13.95" text-anchor="end" font-size="14.5">3.0</text>
<text x="444.6" y="31.97" text-anchor="end" font-size="14.5">2.0</text>
<text x="444.6" y="49.98" text-anchor="end" font-size="14.5">1.0</text>
<text x="444.6" y="68.00" text-anchor="end" font-size="14.5">0.0</text>
<text x="444.6" y="86.02" text-anchor="end" font-size="14.5">-1.0</text>
<text x="444.6" y="104.03" text-anchor="end" font-size="14.5">-2.0</text>
<text x="444.6" y="122.05" text-anchor="end" font-size="14.5">-3.0</text>
<line x1="476.52" y1="117.05" x2="476.52" y2="120.55" stroke="#222" stroke-width="1"/>
<line x1="492.94" y1="117.05" x2="492.94" y2="120.55" stroke="#222" stroke-width="1"/>
<line x1="509.36" y1="117.05" x2="509.36" y2="120.55" stroke="#222" stroke-width="1"/>
<line x1="525.78" y1="117.05" x2="525.78" y2="124.05" stroke="#222" stroke-width="1"/>
<text x="525.58" y="146.2" text-anchor="middle" font-size="14.5">20.0</text>
<line x1="542.20" y1="117.05" x2="542.20" y2="120.55" stroke="#222" stroke-width="1"/>
<line x1="558.62" y1="117.05" x2="558.62" y2="120.55" stroke="#222" stroke-width="1"/>
<line x1="575.04" y1="117.05" x2="575.04" y2="120.55" stroke="#222" stroke-width="1"/>
<line x1="591.46" y1="117.05" x2="591.46" y2="124.05" stroke="#222" stroke-width="1"/>
<text x="591.26" y="146.2" text-anchor="middle" font-size="14.5">40.0</text>
<line x1="607.88" y1="117.05" x2="607.88" y2="120.55" stroke="#222" stroke-width="1"/>
<line x1="624.30" y1="117.05" x2="624.30" y2="120.55" stroke="#222" stroke-width="1"/>
<line x1="640.72" y1="117.05" x2="640.72" y2="120.55" stroke="#222" stroke-width="1"/>
<line x1="657.14" y1="117.05" x2="657.14" y2="124.05" stroke="#222" stroke-width="1"/>
<text x="656.94" y="146.2" text-anchor="middle" font-size="14.5">60.0</text>
<line x1="673.56" y1="117.05" x2="673.56" y2="120.55" stroke="#222" stroke-width="1"/>
<line x1="689.98" y1="117.05" x2="689.98" y2="120.55" stroke="#222" stroke-width="1"/>
<line x1="706.40" y1="117.05" x2="706.40" y2="120.55" stroke="#222" stroke-width="1"/>
<line x1="722.82" y1="117.05" x2="722.82" y2="124.05" stroke="#222" stroke-width="1"/>
<text x="722.62" y="146.2" text-anchor="middle" font-size="14.5">80.0</text>
<line x1="739.24" y1="117.05" x2="739.24" y2="120.55" stroke="#222" stroke-width="1"/>
<line x1="755.66" y1="117.05" x2="755.66" y2="120.55" stroke="#222" stroke-width="1"/>
<line x1="772.08" y1="117.05" x2="772.08" y2="120.55" stroke="#222" stroke-width="1"/>
<text x="620.40" y="167.4" text-anchor="middle" font-size="14.5">Years</text>
<text transform="translate(407.4,63.4) rotate(-90)" text-anchor="middle" font-size="15.3" textLength="85.5" lengthAdjust="spacingAndGlyphs">Std. anomaly</text>
<text x="466.80" y="29.6" font-size="27" font-weight="bold">b</text>
<defs><clipPath id="cc"><rect x="65.6" y="181.7" width="271.4" height="304.3"/></clipPath><clipPath id="cd"><rect x="458.6" y="187.9" width="220.69999999999993" height="274.29999999999995"/></clipPath></defs>
<g clip-path="url(#cc)">
<path d="M108.70,175.00 C108.70,175.00 301.30,175.00 301.30,175.00 C301.30,175.00 301.30,495.00 301.30,495.00 C301.30,495.00 113.80,495.00 113.80,495.00 C113.80,495.00 113.10,484.67 112.50,478.00 C111.90,471.33 110.83,463.00 110.20,455.00 C109.57,447.00 108.70,430.00 108.70,430.00 C108.70,430.00 108.70,175.00 108.70,175.00Z" fill="#cdebcd"/>
<path d="M124.60,175.00 C124.60,175.00 196.70,175.00 196.70,175.00 C196.70,175.00 196.87,183.53 196.20,191.50 C195.53,199.47 195.75,199.27 194.20,204.90 C192.65,210.53 193.97,209.51 190.40,212.60 C186.83,215.69 184.91,213.94 180.80,216.50 C176.69,219.06 179.11,219.40 175.00,222.20 C170.89,225.00 170.52,222.89 165.40,227.00 C160.28,231.11 160.44,233.23 155.80,237.60 C151.16,241.97 153.65,242.89 148.00,243.40 C142.35,243.91 140.73,241.05 134.60,239.50 C128.47,237.95 130.01,237.33 125.00,237.60 C119.99,237.87 118.36,243.06 115.80,240.50 C113.24,237.94 115.00,233.65 115.40,228.00 C115.80,222.35 115.35,223.41 117.30,219.30 C119.25,215.19 120.91,216.95 122.70,212.60 C124.49,208.25 123.49,213.03 124.00,203.00 C124.51,192.97 124.60,175.00 124.60,175.00Z" fill="#fff"/>
<path d="M156.50,259.70 C156.50,259.70 162.17,259.62 163.50,264.50 C164.83,269.38 164.59,270.61 161.50,278.00 C158.41,285.39 155.50,283.27 151.90,292.20 C148.30,301.13 150.05,299.69 148.00,311.50 C145.95,323.31 147.77,324.71 144.20,336.50 C140.63,348.29 139.72,346.77 134.60,355.70 C129.48,364.63 128.31,365.12 125.00,370.00 C121.69,374.88 122.20,374.00 122.20,374.00 C122.20,374.00 121.01,376.40 119.20,370.00 C117.39,363.60 116.92,365.60 115.40,350.00 C113.88,334.40 114.19,328.03 113.50,311.50 C112.81,294.97 112.80,295.73 112.80,288.00 C112.80,280.27 113.50,282.50 113.50,282.50 C113.50,282.50 114.57,280.40 116.30,284.00 C118.03,287.60 117.95,289.20 120.00,296.00 C122.05,302.80 121.12,305.37 124.00,309.50 C126.88,313.63 126.93,312.51 130.80,311.50 C134.67,310.49 134.39,312.90 138.50,305.70 C142.61,298.50 143.03,294.55 146.20,284.50 C149.37,274.45 147.65,274.61 150.40,268.00 C153.15,261.39 156.50,259.70 156.50,259.70Z" fill="#fff"/>
<path d="M270.20,175.00 C270.20,175.00 287.50,175.00 287.50,175.00 C287.50,175.00 288.50,210.70 288.50,210.70 C288.50,210.70 292.30,212.20 292.30,212.20 C292.30,212.20 298.00,212.60 298.00,212.60 C298.00,212.60 298.72,208.56 299.60,226.00 C300.48,243.44 301.30,278.00 301.30,278.00 C301.30,278.00 301.30,495.00 301.30,495.00 C301.30,495.00 118.50,495.00 118.50,495.00 C118.50,495.00 117.30,428.00 117.30,428.00 C117.30,428.00 117.41,420.33 120.80,414.20 C124.19,408.07 123.23,411.19 130.00,405.00 C136.77,398.81 138.87,400.33 146.20,391.00 C153.53,381.67 152.89,378.27 157.50,370.00 C162.11,361.73 159.85,365.36 163.50,360.00 C167.15,354.64 167.12,355.93 171.20,349.90 C175.28,343.87 175.23,338.44 178.80,337.40 C182.37,336.36 181.51,338.56 184.60,346.00 C187.69,353.44 187.09,357.57 190.40,365.30 C193.71,373.03 194.44,374.01 197.00,375.00 C199.56,375.99 197.65,374.65 200.00,369.00 C202.35,363.35 202.97,364.01 205.80,353.80 C208.63,343.59 208.31,343.02 210.60,330.70 C212.89,318.38 212.35,316.85 214.40,307.60 C216.45,298.35 216.01,297.55 218.30,296.00 C220.59,294.45 219.67,297.93 223.00,301.80 C226.33,305.67 226.67,313.57 230.80,310.50 C234.93,307.43 233.38,300.30 238.50,290.30 C243.62,280.30 245.39,280.39 250.00,273.00 C254.61,265.61 252.73,268.95 255.80,262.60 C258.87,256.25 258.70,256.88 261.50,249.20 C264.30,241.52 266.03,240.47 266.30,233.80 C266.57,227.13 262.23,228.31 262.50,224.20 C262.77,220.09 264.98,222.51 267.30,218.40 C269.62,214.29 270.43,220.37 271.20,208.80 C271.97,197.23 270.20,175.00 270.20,175.00Z" fill="#82d582"/>
<path d="M294.20,243.00 C297.00,243.00 296.32,243.80 298.00,251.00 C299.68,258.20 299.62,256.93 300.50,270.00 C301.38,283.07 301.30,300.00 301.30,300.00 C301.30,300.00 301.30,495.00 301.30,495.00 C301.30,495.00 143.90,495.00 143.90,495.00 C143.90,495.00 149.85,479.13 155.40,465.00 C160.95,450.87 160.38,454.93 164.70,442.00 C169.02,429.07 167.31,425.46 171.60,416.50 C175.89,407.54 175.25,409.95 180.80,408.40 C186.35,406.85 186.85,410.38 192.40,410.70 C197.95,411.02 197.73,414.85 201.60,409.60 C205.47,404.35 202.39,402.09 206.90,391.00 C211.41,379.91 211.11,380.00 218.50,368.00 C225.89,356.00 226.20,359.07 234.60,346.00 C243.00,332.93 242.29,332.87 250.00,319.00 C257.71,305.13 256.57,306.27 263.50,294.00 C270.43,281.73 271.39,280.87 276.00,273.00 C280.61,265.13 277.73,270.37 280.80,264.50 C283.87,258.63 283.93,256.73 287.50,251.00 C291.07,245.27 291.40,243.00 294.20,243.00Z" fill="#2fb72f"/>
<path d="M293.30,264.50 C296.74,262.90 296.03,265.20 297.50,272.00 C298.97,278.80 298.80,290.00 298.80,290.00 C298.80,290.00 298.80,495.00 298.80,495.00 C298.80,495.00 190.00,495.00 190.00,495.00 C190.00,495.00 189.00,485.11 189.00,476.50 C189.00,467.89 187.25,470.09 190.00,462.70 C192.75,455.31 193.57,458.67 199.30,448.80 C205.03,438.93 204.91,439.25 211.50,425.70 C218.09,412.15 217.47,409.68 224.00,398.00 C230.53,386.32 231.52,390.43 236.00,381.90 C240.48,373.37 238.93,372.99 240.80,366.00 C242.67,359.01 240.01,364.10 243.00,355.70 C245.99,347.30 247.07,345.27 252.00,334.50 C256.93,323.73 255.37,326.58 261.50,315.30 C267.63,304.02 268.84,302.15 275.00,292.20 C281.16,282.25 279.72,285.39 284.60,278.00 C289.48,270.61 289.86,266.10 293.30,264.50Z" fill="#0b9733"/>
<path d="M291.30,286.50 C294.13,284.95 293.65,283.00 295.20,292.20 C296.75,301.40 296.14,299.45 297.10,321.00 C298.06,342.55 298.80,373.00 298.80,373.00 C298.80,373.00 298.80,495.00 298.80,495.00 C298.80,495.00 276.00,495.00 276.00,495.00 C276.00,495.00 278.13,489.23 276.00,485.50 C273.87,481.77 272.27,481.00 268.00,481.00 C263.73,481.00 262.75,484.54 260.00,485.50 C257.25,486.46 261.38,485.75 257.70,484.60 C254.02,483.45 252.36,485.81 246.20,481.20 C240.04,476.59 239.83,474.07 234.60,467.30 C229.37,460.53 228.44,462.57 226.60,455.80 C224.76,449.03 225.19,450.54 227.70,441.90 C230.21,433.26 232.29,433.88 236.00,423.40 C239.71,412.92 236.72,417.37 241.60,402.60 C246.48,387.83 248.99,383.09 254.30,368.00 C259.61,352.91 256.99,358.00 261.50,346.00 C266.01,334.00 265.04,335.80 271.20,323.00 C277.36,310.20 279.24,307.73 284.60,298.00 C289.96,288.27 288.47,288.05 291.30,286.50Z" fill="#0d6070"/>
<path d="M289.40,320.00 C291.69,320.00 291.03,320.17 291.30,330.70 C291.57,341.23 291.04,349.55 290.40,359.50 C289.76,369.45 289.91,362.03 288.90,368.00 C287.89,373.97 289.05,375.45 286.60,381.90 C284.15,388.35 283.70,392.84 279.70,392.20 C275.70,391.56 273.65,385.95 271.60,379.50 C269.55,373.05 270.56,375.87 272.00,368.00 C273.44,360.13 274.15,359.95 277.00,350.00 C279.85,340.05 279.39,338.70 282.70,330.70 C286.01,322.70 287.11,320.00 289.40,320.00Z" fill="#1430cc"/>
</g>
<rect x="65.6" y="181.7" width="271.4" height="304.3" fill="none" stroke="#666" stroke-width="1.2"/>
<line x1="65.0" y1="486.0" x2="337.6" y2="486.0" stroke="#222" stroke-width="1.5"/>
<line x1="58.599999999999994" y1="280.6" x2="65.6" y2="280.6" stroke="#333" stroke-width="1.1"/>
<line x1="58.599999999999994" y1="383.0" x2="65.6" y2="383.0" stroke="#333" stroke-width="1.1"/>
<line x1="58.599999999999994" y1="452.2" x2="65.6" y2="452.2" stroke="#333" stroke-width="1.1"/>
<line x1="61.599999999999994" y1="197.2" x2="65.6" y2="197.2" stroke="#555" stroke-width="0.9"/>
<line x1="61.599999999999994" y1="218.3" x2="65.6" y2="218.3" stroke="#555" stroke-width="0.9"/>
<line x1="61.599999999999994" y1="239.4" x2="65.6" y2="239.4" stroke="#555" stroke-width="0.9"/>
<line x1="61.599999999999994" y1="260.2" x2="65.6" y2="260.2" stroke="#555" stroke-width="0.9"/>
<line x1="61.599999999999994" y1="301.5" x2="65.6" y2="301.5" stroke="#555" stroke-width="0.9"/>
<line x1="61.599999999999994" y1="323" x2="65.6" y2="323" stroke="#555" stroke-width="0.9"/>
<line x1="61.599999999999994" y1="344.6" x2="65.6" y2="344.6" stroke="#555" stroke-width="0.9"/>
<line x1="61.599999999999994" y1="364.6" x2="65.6" y2="364.6" stroke="#555" stroke-width="0.9"/>
<line x1="61.599999999999994" y1="400.3" x2="65.6" y2="400.3" stroke="#555" stroke-width="0.9"/>
<line x1="61.599999999999994" y1="415.3" x2="65.6" y2="415.3" stroke="#555" stroke-width="0.9"/>
<line x1="61.599999999999994" y1="428.3" x2="65.6" y2="428.3" stroke="#555" stroke-width="0.9"/>
<line x1="61.599999999999994" y1="440.7" x2="65.6" y2="440.7" stroke="#555" stroke-width="0.9"/>
<line x1="61.599999999999994" y1="461.7" x2="65.6" y2="461.7" stroke="#555" stroke-width="0.9"/>
<line x1="61.599999999999994" y1="471" x2="65.6" y2="471" stroke="#555" stroke-width="0.9"/>
<line x1="61.599999999999994" y1="479.6" x2="65.6" y2="479.6" stroke="#555" stroke-width="0.9"/>
<text x="49.4" y="285.8" text-anchor="end" font-size="14.5" textLength="20.2" lengthAdjust="spacingAndGlyphs">100</text>
<text x="49.4" y="388.2" text-anchor="end" font-size="14.5" textLength="20.2" lengthAdjust="spacingAndGlyphs">200</text>
<text x="49.4" y="457.4" text-anchor="end" font-size="14.5" textLength="20.2" lengthAdjust="spacingAndGlyphs">300</text>
<text transform="translate(18.3,333) rotate(-90)" text-anchor="middle" font-size="16" textLength="74" lengthAdjust="spacingAndGlyphs">depth (m)</text>
<line x1="82.6" y1="486.0" x2="82.6" y2="494.0" stroke="#333" stroke-width="1.1"/>
<line x1="142.6" y1="486.0" x2="142.6" y2="491.0" stroke="#333" stroke-width="1.1"/>
<line x1="201.3" y1="486.0" x2="201.3" y2="491.0" stroke="#333" stroke-width="1.1"/>
<line x1="260.4" y1="486.0" x2="260.4" y2="494.0" stroke="#333" stroke-width="1.1"/>
<line x1="319.8" y1="486.0" x2="319.8" y2="491.0" stroke="#333" stroke-width="1.1"/>
<text x="82.8" y="514.3" text-anchor="middle" font-size="13.2">45W</text>
<text x="260.4" y="514.3" text-anchor="middle" font-size="13.2">0</text>
<text x="73.2" y="212.3" font-size="26" font-weight="bold" transform="translate(73.2,0) scale(1.12,1) translate(-73.2,0)">c</text>
<rect x="341.5" y="234.50" width="10.7" height="9.01" fill="#ff0000" stroke="#999" stroke-width="0.5"/>
<rect x="341.5" y="243.51" width="10.7" height="9.01" fill="#f23a0c" stroke="#999" stroke-width="0.5"/>
<rect x="341.5" y="252.52" width="10.7" height="9.01" fill="#f56a10" stroke="#999" stroke-width="0.5"/>
<rect x="341.5" y="261.53" width="10.7" height="9.01" fill="#f89212" stroke="#999" stroke-width="0.5"/>
<rect x="341.5" y="270.54" width="10.7" height="9.01" fill="#fbb214" stroke="#999" stroke-width="0.5"/>
<rect x="341.5" y="279.55" width="10.7" height="9.01" fill="#fdd414" stroke="#999" stroke-width="0.5"/>
<rect x="341.5" y="288.55" width="10.7" height="9.01" fill="#fff200" stroke="#999" stroke-width="0.5"/>
<rect x="341.5" y="297.56" width="10.7" height="9.01" fill="#ffff3c" stroke="#999" stroke-width="0.5"/>
<rect x="341.5" y="306.57" width="10.7" height="9.01" fill="#ffff90" stroke="#999" stroke-width="0.5"/>
<rect x="341.5" y="315.58" width="10.7" height="9.01" fill="#ffffc8" stroke="#999" stroke-width="0.5"/>
<rect x="341.5" y="324.59" width="10.7" height="9.01" fill="#ffffff" stroke="#999" stroke-width="0.5"/>
<rect x="341.5" y="333.60" width="10.7" height="9.01" fill="#ffffff" stroke="#999" stroke-width="0.5"/>
<rect x="341.5" y="342.61" width="10.7" height="9.01" fill="#d2ecd2" stroke="#999" stroke-width="0.5"/>
<rect x="341.5" y="351.62" width="10.7" height="9.01" fill="#8fd68f" stroke="#999" stroke-width="0.5"/>
<rect x="341.5" y="360.63" width="10.7" height="9.01" fill="#2eb82e" stroke="#999" stroke-width="0.5"/>
<rect x="341.5" y="369.64" width="10.7" height="9.01" fill="#0a9632" stroke="#999" stroke-width="0.5"/>
<rect x="341.5" y="378.65" width="10.7" height="9.01" fill="#0c6070" stroke="#999" stroke-width="0.5"/>
<rect x="341.5" y="387.65" width="10.7" height="9.01" fill="#1430c8" stroke="#999" stroke-width="0.5"/>
<rect x="341.5" y="396.66" width="10.7" height="9.01" fill="#0a0af0" stroke="#999" stroke-width="0.5"/>
<rect x="341.5" y="405.67" width="10.7" height="9.01" fill="#2010d0" stroke="#999" stroke-width="0.5"/>
<rect x="341.5" y="414.68" width="10.7" height="9.01" fill="#3a10b0" stroke="#999" stroke-width="0.5"/>
<rect x="341.5" y="423.69" width="10.7" height="9.01" fill="#501090" stroke="#999" stroke-width="0.5"/>
<text x="368" y="266.93" text-anchor="middle" font-size="15">0.4</text>
<text x="368" y="302.96" text-anchor="middle" font-size="15">0.2</text>
<text x="368" y="339.00" text-anchor="middle" font-size="15">0</text>
<text x="368" y="375.04" text-anchor="middle" font-size="15">-0.2</text>
<text x="368" y="411.07" text-anchor="middle" font-size="15">-0.4</text>
<text transform="translate(396,331.3) rotate(-90)" text-anchor="middle" font-size="16.6" textLength="130" lengthAdjust="spacingAndGlyphs">Temperature (°C)</text>
<g clip-path="url(#cd)">
<path d="M450.00,298.80 C450.00,298.80 456.90,292.56 459.20,298.80 C461.50,305.04 460.60,315.76 461.50,330.00 C462.40,344.24 462.50,355.30 463.70,370.00 C464.90,384.70 466.36,389.50 467.50,403.50 C468.64,417.50 469.06,430.00 469.40,440.00 C469.74,450.00 469.88,450.10 469.20,453.50 C468.52,456.90 469.84,456.20 466.00,457.00 C462.16,457.80 450.00,457.50 450.00,457.50 C450.00,457.50 450.00,298.80 450.00,298.80Z" fill="#f6f21c"/>
<path d="M486.10,218.50 C487.74,218.50 489.16,219.30 490.20,222.00 C491.24,224.70 491.04,222.40 491.30,232.00 C491.56,241.60 491.26,250.86 491.50,270.00 C491.74,289.14 492.56,311.30 492.50,327.70 C492.44,344.10 491.86,345.08 491.20,352.00 C490.54,358.92 490.14,362.70 489.20,362.30 C488.26,361.90 487.96,359.62 486.50,350.00 C485.04,340.38 483.00,330.20 481.90,314.20 C480.80,298.20 481.18,286.44 481.00,270.00 C480.82,253.56 480.80,241.60 481.00,232.00 C481.20,222.40 480.98,224.70 482.00,222.00 C483.02,219.30 484.46,218.50 486.10,218.50Z" fill="#8cce2a"/>
<path d="M509.50,222.20 C510.48,221.52 510.58,222.22 511.80,230.00 C513.02,237.78 515.60,261.10 515.60,261.10 C515.60,261.10 519.18,237.46 521.60,228.30 C524.02,219.14 525.80,215.66 527.70,215.30 C529.60,214.94 530.04,219.56 531.10,226.50 C532.16,233.44 533.00,250.00 533.00,250.00 C533.00,250.00 533.66,262.26 534.60,268.00 C535.54,273.74 537.70,278.70 537.70,278.70 C537.70,278.70 543.10,279.02 545.40,279.20 C547.70,279.38 548.24,269.44 549.20,279.60 C550.16,289.76 550.00,301.92 550.20,330.00 C550.40,358.08 550.32,396.40 550.20,420.00 C550.08,443.60 550.34,440.70 549.60,448.00 C548.86,455.30 549.22,454.30 546.50,456.50 C543.78,458.70 540.84,458.42 536.00,459.00 C531.16,459.58 526.90,459.80 522.30,459.40 C517.70,459.00 515.54,458.88 513.00,457.00 C510.46,455.12 510.50,461.40 509.60,450.00 C508.70,438.60 508.90,424.00 508.50,400.00 C508.10,376.00 508.06,355.00 507.60,330.00 C507.14,305.00 506.34,294.32 506.20,275.00 C506.06,255.68 506.24,243.96 506.90,233.40 C507.56,222.84 508.52,222.88 509.50,222.20Z" fill="#f6f21c"/>
<path d="M528.10,295.00 C530.60,293.06 531.12,307.62 533.80,318.00 C536.48,328.38 539.38,336.50 541.50,346.90 C543.62,357.30 544.00,350.22 544.40,370.00 C544.80,389.78 545.22,428.72 543.50,445.80 C541.78,462.88 539.66,453.48 535.80,455.40 C531.94,457.32 527.66,457.32 524.20,455.40 C520.74,453.48 519.94,462.88 518.50,445.80 C517.06,428.72 516.44,393.62 517.00,370.00 C517.56,346.38 519.08,342.70 521.30,327.70 C523.52,312.70 525.60,296.94 528.10,295.00Z" fill="#e9d82a"/>
<path d="M528.10,341.20 C529.58,342.10 530.60,348.74 531.90,356.50 C533.20,364.26 534.22,368.70 534.60,380.00 C534.98,391.30 535.02,400.62 533.80,413.00 C532.58,425.38 530.22,439.96 528.50,441.90 C526.78,443.84 526.24,437.08 525.20,422.70 C524.16,408.32 523.44,384.14 523.30,370.00 C523.16,355.86 523.54,357.76 524.50,352.00 C525.46,346.24 526.62,340.30 528.10,341.20Z" fill="#e2bb20"/>
<path d="M559.80,220.00 L559.94,213.28 L560.35,206.65 L561.03,200.18 L561.97,193.97 L563.16,188.08 L564.58,182.59 L566.21,177.57 L568.05,173.09 L570.05,169.20 L572.20,165.94 L574.47,163.37 L576.83,161.50 L579.25,160.38 L581.70,160.00 L584.15,160.38 L586.57,161.50 L588.93,163.37 L591.20,165.94 L593.35,169.20 L595.35,173.09 L597.19,177.57 L598.82,182.59 L600.24,188.08 L601.43,193.97 L602.37,200.18 L603.05,206.65 L603.46,213.28 L603.60,220.00 L603.91,231.68 L604.17,243.35 L604.36,255.03 L604.48,266.70 L604.50,278.38 L604.44,290.05 L604.31,301.73 L604.13,313.40 L603.91,325.07 L603.66,336.75 L603.39,348.43 L603.12,360.10 L602.86,371.77 L602.59,383.45 L602.28,395.12 L601.95,406.80 L601.59,418.48 L601.21,430.15 L600.81,441.82 L600.40,453.50 L600.27,455.12 L599.87,456.68 L599.22,458.11 L598.35,459.37 L597.29,460.40 L596.08,461.17 L594.77,461.64 L593.40,461.80 L559.90,461.80 L558.53,461.64 L557.22,461.17 L556.01,460.40 L554.95,459.37 L554.08,458.11 L553.43,456.68 L553.03,455.12 L552.90,453.50 L552.90,453.50 L553.35,441.82 L553.78,430.15 L554.20,418.48 L554.61,406.80 L555.01,395.12 L555.38,383.45 L555.75,371.77 L556.09,360.10 L556.41,348.43 L556.72,336.75 L557.02,325.07 L557.32,313.40 L557.61,301.73 L557.91,290.05 L558.21,278.38 L558.52,266.70 L558.84,255.03 L559.16,243.35 L559.48,231.68Z" fill="#9ad228"/>
<path d="M563.00,230.00 L563.12,223.51 L563.48,217.09 L564.07,210.84 L564.88,204.83 L565.91,199.14 L567.15,193.84 L568.56,188.99 L570.15,184.65 L571.89,180.89 L573.76,177.74 L575.72,175.25 L577.77,173.45 L579.87,172.36 L582.00,172.00 L584.13,172.36 L586.23,173.45 L588.28,175.25 L590.24,177.74 L592.11,180.89 L593.85,184.65 L595.44,188.99 L596.85,193.84 L598.09,199.14 L599.12,204.83 L599.93,210.84 L600.52,217.09 L600.88,223.51 L601.00,230.00 L601.32,241.10 L601.61,252.20 L601.82,263.30 L601.90,274.40 L601.88,285.50 L601.84,296.60 L601.76,307.70 L601.66,318.80 L601.54,329.90 L601.41,341.00 L601.26,352.10 L601.10,363.20 L600.93,374.30 L600.71,385.40 L600.44,396.50 L600.12,407.60 L599.76,418.70 L599.36,429.80 L598.94,440.90 L598.50,452.00 L598.37,453.68 L597.97,455.29 L597.32,456.78 L596.45,458.08 L595.39,459.15 L594.18,459.95 L592.87,460.43 L591.50,460.60 L562.00,460.60 L560.63,460.43 L559.32,459.95 L558.11,459.15 L557.05,458.08 L556.18,456.78 L555.53,455.29 L555.13,453.68 L555.00,452.00 L555.00,452.00 L555.30,440.90 L555.61,429.80 L555.94,418.70 L556.28,407.60 L556.63,396.50 L556.98,385.40 L557.35,374.30 L557.74,363.20 L558.14,352.10 L558.56,341.00 L558.99,329.90 L559.43,318.80 L559.88,307.70 L560.33,296.60 L560.78,285.50 L561.22,274.40 L561.66,263.30 L562.11,252.20 L562.55,241.10Z" fill="#7cc02a"/>
<path d="M566.00,240.00 L566.10,234.29 L566.42,228.65 L566.93,223.16 L567.64,217.87 L568.54,212.87 L569.62,208.20 L570.86,203.94 L572.25,200.13 L573.77,196.82 L575.40,194.05 L577.12,191.86 L578.91,190.28 L580.74,189.32 L582.60,189.00 L584.46,189.32 L586.29,190.28 L588.08,191.86 L589.80,194.05 L591.43,196.82 L592.95,200.13 L594.34,203.94 L595.58,208.20 L596.66,212.87 L597.56,217.87 L598.27,223.16 L598.78,228.65 L599.10,234.29 L599.20,240.00 L599.61,250.50 L599.98,261.00 L600.18,271.50 L600.19,282.00 L600.17,292.50 L600.12,303.00 L600.06,313.50 L599.98,324.00 L599.89,334.50 L599.78,345.00 L599.67,355.50 L599.55,366.00 L599.41,376.50 L599.20,387.00 L598.93,397.50 L598.62,408.00 L598.25,418.50 L597.86,429.00 L597.44,439.50 L597.00,450.00 L596.87,451.83 L596.47,453.60 L595.82,455.22 L594.95,456.65 L593.89,457.82 L592.68,458.68 L591.37,459.22 L590.00,459.40 L563.80,459.40 L562.43,459.22 L561.12,458.68 L559.91,457.82 L558.85,456.65 L557.98,455.22 L557.33,453.60 L556.93,451.83 L556.80,450.00 L556.80,450.00 L557.00,439.50 L557.23,429.00 L557.49,418.50 L557.77,408.00 L558.09,397.50 L558.42,387.00 L558.77,376.50 L559.15,366.00 L559.56,355.50 L560.03,345.00 L560.53,334.50 L561.06,324.00 L561.63,313.50 L562.21,303.00 L562.80,292.50 L563.40,282.00 L564.00,271.50 L564.64,261.00 L565.31,250.50Z" fill="#5aa52e"/>
<path d="M569.00,245.00 L569.09,239.74 L569.35,234.54 L569.79,229.48 L570.39,224.61 L571.15,219.99 L572.05,215.70 L573.10,211.77 L574.27,208.25 L575.55,205.20 L576.93,202.65 L578.38,200.64 L579.88,199.18 L581.43,198.30 L583.00,198.00 L584.57,198.30 L586.12,199.18 L587.62,200.64 L589.07,202.65 L590.45,205.20 L591.73,208.25 L592.90,211.77 L593.95,215.70 L594.85,219.99 L595.61,224.61 L596.21,229.48 L596.65,234.54 L596.91,239.74 L597.00,245.00 L597.63,255.25 L598.18,265.50 L598.40,275.75 L598.42,286.00 L598.44,296.25 L598.46,306.50 L598.47,316.75 L598.48,327.00 L598.49,337.25 L598.50,347.50 L598.50,357.75 L598.50,368.00 L598.45,378.25 L598.27,388.50 L597.98,398.75 L597.59,409.00 L597.13,419.25 L596.62,429.50 L596.06,439.75 L595.50,450.00 L595.37,451.64 L594.97,453.21 L594.32,454.67 L593.45,455.94 L592.39,456.98 L591.18,457.76 L589.87,458.24 L588.50,458.40 L565.50,458.40 L564.13,458.24 L562.82,457.76 L561.61,456.98 L560.55,455.94 L559.68,454.67 L559.03,453.21 L558.63,451.64 L558.50,450.00 L558.50,450.00 L558.68,439.75 L558.92,429.50 L559.20,419.25 L559.51,409.00 L559.87,398.75 L560.25,388.50 L560.66,378.25 L561.09,368.00 L561.60,357.75 L562.20,347.50 L562.88,337.25 L563.60,327.00 L564.36,316.75 L565.13,306.50 L565.88,296.25 L566.59,286.00 L567.25,275.75 L567.86,265.50 L568.44,255.25Z" fill="#4c9a38"/>
<path d="M571.50,250.00 L571.57,245.24 L571.79,240.54 L572.16,235.96 L572.66,231.56 L573.30,227.39 L574.06,223.50 L574.94,219.95 L575.92,216.77 L577.00,214.01 L578.15,211.71 L579.37,209.88 L580.64,208.57 L581.93,207.77 L583.25,207.50 L584.57,207.77 L585.86,208.57 L587.13,209.88 L588.35,211.71 L589.50,214.01 L590.58,216.77 L591.56,219.95 L592.44,223.50 L593.20,227.39 L593.84,231.56 L594.34,235.96 L594.71,240.54 L594.93,245.24 L595.00,250.00 L595.34,260.00 L595.66,270.00 L595.94,280.00 L596.24,290.00 L596.55,300.00 L596.86,310.00 L597.16,320.00 L597.43,330.00 L597.66,340.00 L597.84,350.00 L597.96,360.00 L598.00,370.00 L597.93,380.00 L597.73,390.00 L597.42,400.00 L596.99,410.00 L596.48,420.00 L595.88,430.00 L595.22,440.00 L594.50,450.00 L594.37,451.48 L593.97,452.91 L593.32,454.22 L592.45,455.37 L591.39,456.32 L590.18,457.02 L588.87,457.45 L587.50,457.60 L569.00,457.60 L567.63,457.45 L566.32,457.02 L565.11,456.32 L564.05,455.37 L563.18,454.22 L562.53,452.91 L562.13,451.48 L562.00,450.00 L562.00,450.00 L562.32,440.00 L562.66,430.00 L563.01,420.00 L563.38,410.00 L563.76,400.00 L564.16,390.00 L564.57,380.00 L565.00,370.00 L565.44,360.00 L565.91,350.00 L566.39,340.00 L566.89,330.00 L567.40,320.00 L567.93,310.00 L568.48,300.00 L569.04,290.00 L569.61,280.00 L570.20,270.00 L570.84,260.00Z" fill="#56b868"/>
<path d="M574.00,255.00 L574.06,250.94 L574.23,246.92 L574.51,243.01 L574.89,239.25 L575.38,235.69 L575.96,232.37 L576.64,229.33 L577.39,226.62 L578.21,224.26 L579.10,222.29 L580.03,220.74 L581.00,219.61 L581.99,218.93 L583.00,218.70 L584.01,218.93 L585.00,219.61 L585.97,220.74 L586.90,222.29 L587.79,224.26 L588.61,226.62 L589.36,229.33 L590.04,232.37 L590.62,235.69 L591.11,239.25 L591.49,243.01 L591.77,246.92 L591.94,250.94 L592.00,255.00 L592.16,264.80 L592.39,274.60 L592.76,284.40 L593.32,294.20 L594.02,304.00 L594.81,313.80 L595.61,323.60 L596.38,333.40 L597.06,343.20 L597.59,353.00 L597.92,362.80 L598.00,372.60 L597.91,382.40 L597.70,392.20 L597.38,402.00 L596.94,411.80 L596.38,421.60 L595.71,431.40 L594.91,441.20 L594.00,451.00 L593.88,452.17 L593.54,453.30 L592.99,454.33 L592.24,455.24 L591.33,455.99 L590.30,456.54 L589.17,456.88 L588.00,457.00 L569.20,457.00 L568.03,456.88 L566.90,456.54 L565.87,455.99 L564.96,455.24 L564.21,454.33 L563.66,453.30 L563.32,452.17 L563.20,451.00 L563.20,451.00 L563.68,441.20 L564.16,431.40 L564.65,421.60 L565.15,411.80 L565.64,402.00 L566.15,392.20 L566.65,382.40 L567.16,372.60 L567.68,362.80 L568.18,353.00 L568.68,343.20 L569.18,333.40 L569.69,323.60 L570.21,313.80 L570.75,304.00 L571.31,294.20 L571.90,284.40 L572.53,274.60 L573.23,264.80Z" fill="#70e0c4"/>
<path d="M577.00,265.00 L577.04,261.27 L577.17,257.59 L577.38,254.00 L577.67,250.55 L578.03,247.28 L578.47,244.24 L578.98,241.45 L579.54,238.97 L580.16,236.80 L580.82,235.00 L581.52,233.57 L582.25,232.53 L582.99,231.91 L583.75,231.70 L584.51,231.91 L585.25,232.53 L585.98,233.57 L586.68,235.00 L587.34,236.80 L587.96,238.97 L588.52,241.45 L589.03,244.24 L589.47,247.28 L589.83,250.55 L590.12,254.00 L590.33,257.59 L590.46,261.27 L590.50,265.00 L590.68,274.30 L591.01,283.60 L591.52,292.90 L592.16,302.20 L592.88,311.50 L593.63,320.80 L594.36,330.10 L595.03,339.40 L595.59,348.70 L595.99,358.00 L596.19,367.30 L596.19,376.60 L596.13,385.90 L596.03,395.20 L595.85,404.50 L595.61,413.80 L595.30,423.10 L594.89,432.40 L594.40,441.70 L593.80,451.00 L593.69,452.11 L593.37,453.18 L592.84,454.17 L592.13,455.03 L591.27,455.74 L590.28,456.27 L589.21,456.59 L588.10,456.70 L569.50,456.70 L568.39,456.59 L567.32,456.27 L566.33,455.74 L565.47,455.03 L564.76,454.17 L564.23,453.18 L563.91,452.11 L563.80,451.00 L563.80,451.00 L564.40,441.70 L565.01,432.40 L565.62,423.10 L566.23,413.80 L566.85,404.50 L567.48,395.20 L568.11,385.90 L568.75,376.60 L569.39,367.30 L570.01,358.00 L570.63,348.70 L571.25,339.40 L571.87,330.10 L572.50,320.80 L573.15,311.50 L573.82,302.20 L574.53,292.90 L575.27,283.60 L576.06,274.30Z" fill="#4c9cf2"/>
<path d="M577.50,290.00 L577.54,286.57 L577.66,283.19 L577.85,279.89 L578.12,276.72 L578.46,273.72 L578.86,270.92 L579.33,268.36 L579.85,266.08 L580.42,264.09 L581.04,262.43 L581.69,261.12 L582.36,260.17 L583.05,259.59 L583.75,259.40 L584.45,259.59 L585.14,260.17 L585.81,261.12 L586.46,262.43 L587.08,264.09 L587.65,266.08 L588.17,268.36 L588.64,270.92 L589.04,273.72 L589.38,276.72 L589.65,279.89 L589.84,283.19 L589.96,286.57 L590.00,290.00 L590.66,298.05 L591.29,306.10 L591.89,314.15 L592.45,322.20 L592.94,330.25 L593.37,338.30 L593.72,346.35 L593.99,354.40 L594.15,362.45 L594.20,370.50 L594.20,378.55 L594.19,386.60 L594.18,394.65 L594.15,402.70 L594.11,410.75 L594.05,418.80 L593.96,426.85 L593.84,434.90 L593.69,442.95 L593.50,451.00 L593.39,452.07 L593.08,453.10 L592.57,454.06 L591.89,454.89 L591.06,455.57 L590.10,456.08 L589.07,456.39 L588.00,456.50 L569.70,456.50 L568.63,456.39 L567.60,456.08 L566.64,455.57 L565.81,454.89 L565.13,454.06 L564.62,453.10 L564.31,452.07 L564.20,451.00 L564.20,451.00 L564.92,442.95 L565.64,434.90 L566.35,426.85 L567.06,418.80 L567.76,410.75 L568.45,402.70 L569.14,394.65 L569.82,386.60 L570.49,378.55 L571.16,370.50 L571.82,362.45 L572.47,354.40 L573.12,346.35 L573.77,338.30 L574.40,330.25 L575.04,322.20 L575.66,314.15 L576.28,306.10 L576.89,298.05Z" fill="#3050f0"/>
<path d="M576.50,320.00 L576.54,316.78 L576.67,313.59 L576.88,310.49 L577.17,307.50 L577.53,304.68 L577.97,302.04 L578.48,299.64 L579.04,297.48 L579.66,295.61 L580.32,294.05 L581.02,292.82 L581.75,291.92 L582.49,291.38 L583.25,291.20 L584.01,291.38 L584.75,291.92 L585.48,292.82 L586.18,294.05 L586.84,295.61 L587.46,297.48 L588.02,299.64 L588.53,302.04 L588.97,304.68 L589.33,307.50 L589.62,310.49 L589.83,313.59 L589.96,316.78 L590.00,320.00 L590.17,326.55 L590.35,333.10 L590.52,339.65 L590.69,346.20 L590.86,352.75 L591.03,359.30 L591.19,365.85 L591.36,372.40 L591.53,378.95 L591.69,385.50 L591.86,392.05 L592.02,398.60 L592.18,405.15 L592.34,411.70 L592.51,418.25 L592.67,424.80 L592.83,431.35 L592.99,437.90 L593.14,444.45 L593.30,451.00 L593.20,452.03 L592.90,453.03 L592.41,453.94 L591.75,454.75 L590.94,455.41 L590.03,455.90 L589.03,456.20 L588.00,456.30 L569.70,456.30 L568.67,456.20 L567.67,455.90 L566.76,455.41 L565.95,454.75 L565.29,453.94 L564.80,453.03 L564.50,452.03 L564.40,451.00 L564.40,451.00 L565.23,444.45 L566.04,437.90 L566.82,431.35 L567.58,424.80 L568.32,418.25 L569.03,411.70 L569.72,405.15 L570.39,398.60 L571.03,392.05 L571.64,385.50 L572.23,378.95 L572.80,372.40 L573.34,365.85 L573.86,359.30 L574.36,352.75 L574.83,346.20 L575.29,339.65 L575.71,333.10 L576.12,326.55Z" fill="#1a14ee"/>
<path d="M609.50,228.00 L609.71,219.27 L610.33,210.64 L611.37,202.24 L612.80,194.16 L614.60,186.50 L616.77,179.37 L619.25,172.85 L622.04,167.02 L625.08,161.96 L628.35,157.72 L631.80,154.38 L635.39,151.96 L639.07,150.49 L642.80,150.00 L646.53,150.49 L650.21,151.96 L653.80,154.38 L657.25,157.72 L660.52,161.96 L663.56,167.02 L666.35,172.85 L668.83,179.37 L671.00,186.50 L672.80,194.16 L674.23,202.24 L675.27,210.64 L675.89,219.27 L676.10,228.00 L678.61,239.10 L680.97,250.20 L682.85,261.30 L683.91,272.40 L684.19,283.50 L684.40,294.60 L684.58,305.70 L684.72,316.80 L684.84,327.90 L684.92,339.00 L684.97,350.10 L685.00,361.20 L685.00,372.30 L685.00,383.40 L685.00,394.50 L685.00,405.60 L685.00,416.70 L685.00,427.80 L685.00,438.90 L685.00,450.00 L684.87,452.30 L684.47,454.52 L683.82,456.56 L682.95,458.34 L681.89,459.81 L680.68,460.90 L679.37,461.57 L678.00,461.80 L609.90,461.80 L608.53,461.57 L607.22,460.90 L606.01,459.81 L604.95,458.34 L604.08,456.56 L603.43,454.52 L603.03,452.30 L602.90,450.00 L602.90,450.00 L603.10,438.90 L603.31,427.80 L603.54,416.70 L603.79,405.60 L604.05,394.50 L604.32,383.40 L604.61,372.30 L604.90,361.20 L605.22,350.10 L605.57,339.00 L605.94,327.90 L606.32,316.80 L606.71,305.70 L607.11,294.60 L607.50,283.50 L607.89,272.40 L608.28,261.30 L608.68,250.20 L609.09,239.10Z" fill="#f8f218"/>
<path d="M613.50,240.00 L613.68,233.06 L614.22,226.20 L615.11,219.52 L616.35,213.10 L617.91,207.01 L619.77,201.34 L621.92,196.16 L624.32,191.53 L626.95,187.50 L629.78,184.14 L632.75,181.48 L635.85,179.55 L639.03,178.39 L642.25,178.00 L645.47,178.39 L648.65,179.55 L651.75,181.48 L654.72,184.14 L657.55,187.50 L660.18,191.53 L662.58,196.16 L664.73,201.34 L666.59,207.01 L668.15,213.10 L669.39,219.52 L670.28,226.20 L670.82,233.06 L671.00,240.00 L672.55,250.50 L673.96,261.00 L674.87,271.50 L675.15,282.00 L675.34,292.50 L675.49,303.00 L675.61,313.50 L675.71,324.00 L675.79,334.50 L675.86,345.00 L675.93,355.50 L676.01,366.00 L676.09,376.50 L676.16,387.00 L676.23,397.50 L676.30,408.00 L676.36,418.50 L676.41,429.00 L676.46,439.50 L676.50,450.00 L676.37,452.19 L675.97,454.29 L675.32,456.22 L674.45,457.92 L673.39,459.31 L672.18,460.35 L670.87,460.98 L669.50,461.20 L611.50,461.20 L610.13,460.98 L608.82,460.35 L607.61,459.31 L606.55,457.92 L605.68,456.22 L605.03,454.29 L604.63,452.19 L604.50,450.00 L604.50,450.00 L604.60,439.50 L604.76,429.00 L604.96,418.50 L605.21,408.00 L605.49,397.50 L605.79,387.00 L606.12,376.50 L606.47,366.00 L606.87,355.50 L607.37,345.00 L607.96,334.50 L608.61,324.00 L609.29,313.50 L609.99,303.00 L610.67,292.50 L611.31,282.00 L611.89,271.50 L612.44,261.00 L612.97,250.50Z" fill="#f0dc30"/>
<path d="M616.00,250.00 L616.16,242.83 L616.64,235.76 L617.43,228.86 L618.53,222.23 L619.91,215.95 L621.56,210.10 L623.47,204.75 L625.60,199.96 L627.93,195.81 L630.44,192.34 L633.08,189.59 L635.83,187.60 L638.64,186.40 L641.50,186.00 L644.36,186.40 L647.17,187.60 L649.92,189.59 L652.56,192.34 L655.07,195.81 L657.40,199.96 L659.53,204.75 L661.44,210.10 L663.09,215.95 L664.47,222.23 L665.57,228.86 L666.36,235.76 L666.84,242.83 L667.00,250.00 L668.84,260.00 L670.32,270.00 L670.89,280.00 L671.22,290.00 L671.48,300.00 L671.69,310.00 L671.85,320.00 L671.99,330.00 L672.12,340.00 L672.26,350.00 L672.41,360.00 L672.59,370.00 L672.78,380.00 L672.96,390.00 L673.14,400.00 L673.32,410.00 L673.49,420.00 L673.66,430.00 L673.83,440.00 L674.00,450.00 L673.87,452.07 L673.47,454.06 L672.82,455.89 L671.95,457.50 L670.89,458.81 L669.68,459.79 L668.37,460.40 L667.00,460.60 L613.00,460.60 L611.63,460.40 L610.32,459.79 L609.11,458.81 L608.05,457.50 L607.18,455.89 L606.53,454.06 L606.13,452.07 L606.00,450.00 L606.00,450.00 L606.05,440.00 L606.17,430.00 L606.35,420.00 L606.58,410.00 L606.85,400.00 L607.16,390.00 L607.48,380.00 L607.83,370.00 L608.19,360.00 L608.68,350.00 L609.27,340.00 L609.95,330.00 L610.70,320.00 L611.48,310.00 L612.28,300.00 L613.08,290.00 L613.84,280.00 L614.56,270.00 L615.27,260.00Z" fill="#ecc232"/>
<path d="M618.50,260.00 L618.64,253.25 L619.06,246.58 L619.76,240.08 L620.73,233.84 L621.95,227.92 L623.41,222.40 L625.09,217.36 L626.97,212.86 L629.03,208.94 L631.24,205.67 L633.57,203.08 L635.99,201.21 L638.48,200.08 L641.00,199.70 L643.52,200.08 L646.01,201.21 L648.43,203.08 L650.76,205.67 L652.97,208.94 L655.03,212.86 L656.91,217.36 L658.59,222.40 L660.05,227.92 L661.27,233.84 L662.24,240.08 L662.94,246.58 L663.36,253.25 L663.50,260.00 L665.25,269.50 L666.16,279.00 L666.68,288.50 L667.11,298.00 L667.45,307.50 L667.73,317.00 L667.98,326.50 L668.20,336.00 L668.43,345.50 L668.68,355.00 L668.98,364.50 L669.31,374.00 L669.65,383.50 L669.98,393.00 L670.31,402.50 L670.65,412.00 L670.99,421.50 L671.32,431.00 L671.66,440.50 L672.00,450.00 L671.87,451.95 L671.47,453.83 L670.82,455.56 L669.95,457.07 L668.89,458.31 L667.68,459.24 L666.37,459.81 L665.00,460.00 L614.30,460.00 L612.93,459.81 L611.62,459.24 L610.41,458.31 L609.35,457.07 L608.48,455.56 L607.83,453.83 L607.43,451.95 L607.30,450.00 L607.30,450.00 L607.34,440.50 L607.45,431.00 L607.63,421.50 L607.86,412.00 L608.14,402.50 L608.45,393.00 L608.79,383.50 L609.15,374.00 L609.52,364.50 L609.96,355.00 L610.52,345.50 L611.18,336.00 L611.93,326.50 L612.75,317.00 L613.62,307.50 L614.53,298.00 L615.46,288.50 L616.41,279.00 L617.38,269.50Z" fill="#e8a030"/>
<path d="M621.00,265.00 L621.12,258.84 L621.48,252.76 L622.08,246.83 L622.91,241.14 L623.95,235.74 L625.20,230.71 L626.64,226.11 L628.25,222.00 L630.01,218.43 L631.90,215.45 L633.89,213.09 L635.97,211.38 L638.09,210.35 L640.25,210.00 L642.41,210.35 L644.53,211.38 L646.61,213.09 L648.60,215.45 L650.49,218.43 L652.25,222.00 L653.86,226.11 L655.30,230.71 L656.55,235.74 L657.59,241.14 L658.42,246.83 L659.02,252.76 L659.38,258.84 L659.50,265.00 L660.53,274.25 L661.33,283.50 L662.06,292.75 L662.75,302.00 L663.40,311.25 L664.01,320.50 L664.58,329.75 L665.11,339.00 L665.63,348.25 L666.12,357.50 L666.59,366.75 L667.05,376.00 L667.49,385.25 L667.91,394.50 L668.32,403.75 L668.70,413.00 L669.06,422.25 L669.40,431.50 L669.71,440.75 L670.00,450.00 L669.87,451.83 L669.47,453.60 L668.82,455.22 L667.95,456.65 L666.89,457.82 L665.68,458.68 L664.37,459.22 L663.00,459.40 L615.50,459.40 L614.13,459.22 L612.82,458.68 L611.61,457.82 L610.55,456.65 L609.68,455.22 L609.03,453.60 L608.63,451.83 L608.50,450.00 L608.50,450.00 L608.54,440.75 L608.65,431.50 L608.82,422.25 L609.04,413.00 L609.32,403.75 L609.63,394.50 L609.97,385.25 L610.34,376.00 L610.73,366.75 L611.18,357.50 L611.81,348.25 L612.58,339.00 L613.47,329.75 L614.46,320.50 L615.52,311.25 L616.62,302.00 L617.73,292.75 L618.83,283.50 L619.88,274.25Z" fill="#e07a28"/>
<path d="M624.00,270.00 L624.10,264.46 L624.39,258.99 L624.88,253.65 L625.56,248.52 L626.41,243.66 L627.44,239.14 L628.61,235.00 L629.93,231.30 L631.37,228.09 L632.92,225.40 L634.55,223.28 L636.25,221.74 L637.99,220.81 L639.75,220.50 L641.51,220.81 L643.25,221.74 L644.95,223.28 L646.58,225.40 L648.13,228.09 L649.57,231.30 L650.89,235.00 L652.06,239.14 L653.09,243.66 L653.94,248.52 L654.62,253.65 L655.11,258.99 L655.40,264.46 L655.50,270.00 L656.59,279.00 L657.64,288.00 L658.66,297.00 L659.62,306.00 L660.54,315.00 L661.40,324.00 L662.20,333.00 L662.94,342.00 L663.61,351.00 L664.20,360.00 L664.73,369.00 L665.23,378.00 L665.70,387.00 L666.16,396.00 L666.58,405.00 L666.96,414.00 L667.30,423.00 L667.59,432.00 L667.82,441.00 L668.00,450.00 L667.87,451.72 L667.47,453.37 L666.82,454.89 L665.95,456.22 L664.89,457.32 L663.68,458.13 L662.37,458.63 L661.00,458.80 L616.50,458.80 L615.13,458.63 L613.82,458.13 L612.61,457.32 L611.55,456.22 L610.68,454.89 L610.03,453.37 L609.63,451.72 L609.50,450.00 L609.50,450.00 L609.54,441.00 L609.65,432.00 L609.82,423.00 L610.05,414.00 L610.33,405.00 L610.65,396.00 L611.01,387.00 L611.40,378.00 L611.81,369.00 L612.26,360.00 L612.87,351.00 L613.64,342.00 L614.56,333.00 L615.62,324.00 L616.79,315.00 L618.07,306.00 L619.45,297.00 L620.90,288.00 L622.42,279.00Z" fill="#dc4c26"/>
<path d="M626.00,275.00 L626.08,270.44 L626.33,265.94 L626.74,261.56 L627.31,257.34 L628.02,253.35 L628.88,249.62 L629.87,246.22 L630.97,243.18 L632.18,240.54 L633.47,238.33 L634.84,236.58 L636.26,235.32 L637.72,234.56 L639.20,234.30 L640.68,234.56 L642.14,235.32 L643.56,236.58 L644.93,238.33 L646.22,240.54 L647.43,243.18 L648.53,246.22 L649.52,249.62 L650.38,253.35 L651.09,257.34 L651.66,261.56 L652.07,265.94 L652.32,270.44 L652.40,275.00 L653.61,283.75 L654.78,292.50 L655.90,301.25 L656.97,310.00 L657.97,318.75 L658.91,327.50 L659.78,336.25 L660.56,345.00 L661.25,353.75 L661.85,362.50 L662.37,371.25 L662.87,380.00 L663.35,388.75 L663.81,397.50 L664.22,406.25 L664.60,415.00 L664.92,423.75 L665.18,432.50 L665.38,441.25 L665.50,450.00 L665.37,451.64 L664.97,453.21 L664.32,454.67 L663.45,455.94 L662.39,456.98 L661.18,457.76 L659.87,458.24 L658.50,458.40 L617.50,458.40 L616.13,458.24 L614.82,457.76 L613.61,456.98 L612.55,455.94 L611.68,454.67 L611.03,453.21 L610.63,451.64 L610.50,450.00 L610.50,450.00 L610.54,441.25 L610.67,432.50 L610.87,423.75 L611.13,415.00 L611.45,406.25 L611.83,397.50 L612.24,388.75 L612.68,380.00 L613.15,371.25 L613.65,362.50 L614.28,353.75 L615.09,345.00 L616.06,336.25 L617.16,327.50 L618.40,318.75 L619.75,310.00 L621.20,301.25 L622.74,292.50 L624.34,283.75Z" fill="#d01020"/>
<path d="M629.00,290.00 L629.06,286.19 L629.24,282.43 L629.53,278.77 L629.94,275.25 L630.46,271.91 L631.07,268.80 L631.78,265.96 L632.58,263.42 L633.45,261.21 L634.38,259.37 L635.36,257.91 L636.39,256.85 L637.44,256.21 L638.50,256.00 L639.56,256.21 L640.61,256.85 L641.64,257.91 L642.62,259.37 L643.55,261.21 L644.42,263.42 L645.22,265.96 L645.93,268.80 L646.54,271.91 L647.06,275.25 L647.47,278.77 L647.76,282.43 L647.94,286.19 L648.00,290.00 L649.57,298.00 L651.08,306.00 L652.54,314.00 L653.91,322.00 L655.19,330.00 L656.36,338.00 L657.41,346.00 L658.31,354.00 L659.06,362.00 L659.68,370.00 L660.27,378.00 L660.84,386.00 L661.38,394.00 L661.88,402.00 L662.33,410.00 L662.73,418.00 L663.05,426.00 L663.29,434.00 L663.45,442.00 L663.50,450.00 L663.37,451.56 L662.97,453.06 L662.32,454.44 L661.45,455.66 L660.39,456.65 L659.18,457.39 L657.87,457.85 L656.50,458.00 L618.50,458.00 L617.13,457.85 L615.82,457.39 L614.61,456.65 L613.55,455.66 L612.68,454.44 L612.03,453.06 L611.63,451.56 L611.50,450.00 L611.50,450.00 L611.55,442.00 L611.69,434.00 L611.91,426.00 L612.21,418.00 L612.57,410.00 L612.99,402.00 L613.47,394.00 L613.99,386.00 L614.54,378.00 L615.13,370.00 L615.74,362.00 L616.56,354.00 L617.59,346.00 L618.82,338.00 L620.22,330.00 L621.77,322.00 L623.44,314.00 L625.22,306.00 L627.08,298.00Z" fill="#8e0a2c"/>
<path d="M628.00,315.00 L628.06,310.94 L628.25,306.92 L628.56,303.01 L628.99,299.25 L629.53,295.69 L630.18,292.37 L630.93,289.33 L631.77,286.62 L632.68,284.26 L633.66,282.29 L634.70,280.74 L635.77,279.61 L636.88,278.93 L638.00,278.70 L639.12,278.93 L640.23,279.61 L641.30,280.74 L642.34,282.29 L643.32,284.26 L644.23,286.62 L645.07,289.33 L645.82,292.37 L646.47,295.69 L647.01,299.25 L647.44,303.01 L647.75,306.92 L647.94,310.94 L648.00,315.00 L649.52,321.75 L651.00,328.50 L652.41,335.25 L653.72,342.00 L654.90,348.75 L655.92,355.50 L656.73,362.25 L657.36,369.00 L657.95,375.75 L658.52,382.50 L659.06,389.25 L659.58,396.00 L660.05,402.75 L660.48,409.50 L660.86,416.25 L661.18,423.00 L661.44,429.75 L661.64,436.50 L661.76,443.25 L661.80,450.00 L661.67,451.48 L661.27,452.91 L660.62,454.22 L659.75,455.37 L658.69,456.32 L657.48,457.02 L656.17,457.45 L654.80,457.60 L619.50,457.60 L618.13,457.45 L616.82,457.02 L615.61,456.32 L614.55,455.37 L613.68,454.22 L613.03,452.91 L612.63,451.48 L612.50,450.00 L612.50,450.00 L612.54,443.25 L612.66,436.50 L612.86,429.75 L613.13,423.00 L613.46,416.25 L613.85,409.50 L614.29,402.75 L614.78,396.00 L615.31,389.25 L615.89,382.50 L616.49,375.75 L617.12,369.00 L617.79,362.25 L618.71,355.50 L619.87,348.75 L621.25,342.00 L622.79,335.25 L624.46,328.50 L626.21,321.75Z" fill="#3e0a66"/>
<path d="M626.50,335.00 L626.57,330.85 L626.79,326.74 L627.15,322.75 L627.64,318.90 L628.26,315.26 L629.01,311.87 L629.87,308.77 L630.83,305.99 L631.88,303.59 L633.01,301.57 L634.20,299.98 L635.44,298.83 L636.71,298.13 L638.00,297.90 L639.29,298.13 L640.56,298.83 L641.80,299.98 L642.99,301.57 L644.12,303.59 L645.17,305.99 L646.13,308.77 L646.99,311.87 L647.74,315.26 L648.36,318.90 L648.85,322.75 L649.21,326.74 L649.43,330.85 L649.50,335.00 L650.64,340.75 L651.76,346.50 L652.80,352.25 L653.72,358.00 L654.47,363.75 L655.06,369.50 L655.63,375.25 L656.20,381.00 L656.74,386.75 L657.26,392.50 L657.76,398.25 L658.22,404.00 L658.65,409.75 L659.03,415.50 L659.37,421.25 L659.66,427.00 L659.89,432.75 L660.06,438.50 L660.16,444.25 L660.20,450.00 L660.07,451.42 L659.67,452.79 L659.02,454.06 L658.15,455.16 L657.09,456.07 L655.88,456.74 L654.57,457.16 L653.20,457.30 L620.50,457.30 L619.13,457.16 L617.82,456.74 L616.61,456.07 L615.55,455.16 L614.68,454.06 L614.03,452.79 L613.63,451.42 L613.50,450.00 L613.50,450.00 L613.53,444.25 L613.63,438.50 L613.79,432.75 L614.00,427.00 L614.27,421.25 L614.59,415.50 L614.96,409.75 L615.38,404.00 L615.84,398.25 L616.34,392.50 L616.88,386.75 L617.45,381.00 L618.05,375.25 L618.69,369.50 L619.36,363.75 L620.32,358.00 L621.62,352.25 L623.15,346.50 L624.81,340.75Z" fill="#2c0a70"/>
</g>
<rect x="458.6" y="187.9" width="220.7" height="274.7" fill="none" stroke="#111" stroke-width="1.5"/>
<line x1="452.1" y1="187.90" x2="458.6" y2="187.90" stroke="#111" stroke-width="1.2"/>
<text x="445.6" y="192.00" text-anchor="end" font-size="11.4" textLength="16.7" lengthAdjust="spacingAndGlyphs">200</text>
<line x1="452.1" y1="226.01" x2="458.6" y2="226.01" stroke="#111" stroke-width="1.2"/>
<text x="445.6" y="230.11" text-anchor="end" font-size="11.4" textLength="16.7" lengthAdjust="spacingAndGlyphs">250</text>
<line x1="452.1" y1="257.15" x2="458.6" y2="257.15" stroke="#111" stroke-width="1.2"/>
<text x="445.6" y="261.25" text-anchor="end" font-size="11.4" textLength="16.7" lengthAdjust="spacingAndGlyphs">300</text>
<line x1="452.1" y1="306.29" x2="458.6" y2="306.29" stroke="#111" stroke-width="1.2"/>
<text x="445.6" y="310.39" text-anchor="end" font-size="11.4" textLength="16.7" lengthAdjust="spacingAndGlyphs">400</text>
<line x1="452.1" y1="344.40" x2="458.6" y2="344.40" stroke="#111" stroke-width="1.2"/>
<text x="445.6" y="348.50" text-anchor="end" font-size="11.4" textLength="16.7" lengthAdjust="spacingAndGlyphs">500</text>
<line x1="452.1" y1="401.87" x2="458.6" y2="401.87" stroke="#111" stroke-width="1.2"/>
<text x="445.6" y="405.97" text-anchor="end" font-size="11.4" textLength="16.7" lengthAdjust="spacingAndGlyphs">700</text>
<line x1="452.1" y1="435.03" x2="458.6" y2="435.03" stroke="#111" stroke-width="1.2"/>
<text x="445.6" y="439.13" text-anchor="end" font-size="11.4" textLength="16.7" lengthAdjust="spacingAndGlyphs">850</text>
<line x1="452.1" y1="462.79" x2="458.6" y2="462.79" stroke="#111" stroke-width="1.2"/>
<text x="445.6" y="466.89" text-anchor="end" font-size="11.4" textLength="21.9" lengthAdjust="spacingAndGlyphs">1000</text>
<text transform="translate(416,325.3) rotate(-90)" text-anchor="middle" font-size="13.8" textLength="62.5" lengthAdjust="spacingAndGlyphs">Pressure</text>
<line x1="478.10" y1="462.6" x2="478.10" y2="466.6" stroke="#111" stroke-width="1.5"/>
<line x1="498.30" y1="462.6" x2="498.30" y2="466.6" stroke="#111" stroke-width="1.5"/>
<line x1="518.50" y1="462.6" x2="518.50" y2="469.6" stroke="#111" stroke-width="1.5"/>
<line x1="538.70" y1="462.6" x2="538.70" y2="466.6" stroke="#111" stroke-width="1.5"/>
<line x1="558.90" y1="462.6" x2="558.90" y2="466.6" stroke="#111" stroke-width="1.5"/>
<line x1="579.10" y1="462.6" x2="579.10" y2="469.6" stroke="#111" stroke-width="1.5"/>
<line x1="599.30" y1="462.6" x2="599.30" y2="466.6" stroke="#111" stroke-width="1.5"/>
<line x1="619.50" y1="462.6" x2="619.50" y2="466.6" stroke="#111" stroke-width="1.5"/>
<line x1="639.70" y1="462.6" x2="639.70" y2="469.6" stroke="#111" stroke-width="1.5"/>
<line x1="659.90" y1="462.6" x2="659.90" y2="466.6" stroke="#111" stroke-width="1.5"/>
<text x="518.50" y="489" text-anchor="middle" font-size="11.5" textLength="6.2" lengthAdjust="spacingAndGlyphs">0</text>
<text x="579.10" y="489" text-anchor="middle" font-size="11.5" textLength="18.5" lengthAdjust="spacingAndGlyphs">30N</text>
<text x="639.70" y="489" text-anchor="middle" font-size="11.5" textLength="18.5" lengthAdjust="spacingAndGlyphs">60N</text>
<text x="546.5" y="512.3" font-size="16.5" textLength="44.3" lengthAdjust="spacingAndGlyphs">Latitude</text>
<line x1="679.3" y1="286.6" x2="684.8" y2="286.6" stroke="#111" stroke-width="1.2"/>
<text x="690.6" y="290.20000000000005" font-size="10" transform="translate(690.6,0) scale(0.85,1) translate(-690.6,0)">8</text>
<line x1="679.3" y1="380.4" x2="684.8" y2="380.4" stroke="#111" stroke-width="1.2"/>
<text x="690.6" y="384.0" font-size="10" transform="translate(690.6,0) scale(0.85,1) translate(-690.6,0)">4</text>
<text transform="translate(711.8,325.8) rotate(-90)" text-anchor="middle" font-size="14.5" textLength="79.7" lengthAdjust="spacingAndGlyphs">Height (km)</text>
<text x="409.5" y="212" font-size="26" font-weight="bold">d</text>
<rect x="729.6" y="190.00" width="11.1" height="12.30" fill="#2a1672" stroke="#222" stroke-width="0.6"/>
<rect x="729.6" y="202.30" width="11.1" height="12.30" fill="#3e0a52" stroke="#222" stroke-width="0.6"/>
<rect x="729.6" y="214.60" width="11.1" height="12.30" fill="#8c0a28" stroke="#222" stroke-width="0.6"/>
<rect x="729.6" y="226.90" width="11.1" height="12.30" fill="#d0101e" stroke="#222" stroke-width="0.6"/>
<rect x="729.6" y="239.20" width="11.1" height="12.30" fill="#dc4424" stroke="#222" stroke-width="0.6"/>
<rect x="729.6" y="251.50" width="11.1" height="12.30" fill="#e46c24" stroke="#222" stroke-width="0.6"/>
<rect x="729.6" y="263.80" width="11.1" height="12.30" fill="#eca032" stroke="#222" stroke-width="0.6"/>
<rect x="729.6" y="276.10" width="11.1" height="12.30" fill="#eec232" stroke="#222" stroke-width="0.6"/>
<rect x="729.6" y="288.40" width="11.1" height="12.30" fill="#eee040" stroke="#222" stroke-width="0.6"/>
<rect x="729.6" y="300.70" width="11.1" height="12.30" fill="#fafa1e" stroke="#222" stroke-width="0.6"/>
<rect x="729.6" y="313.00" width="11.1" height="12.30" fill="#ffffff" stroke="#222" stroke-width="0.6"/>
<rect x="729.6" y="325.30" width="11.1" height="12.30" fill="#ffffff" stroke="#222" stroke-width="0.6"/>
<rect x="729.6" y="337.60" width="11.1" height="12.30" fill="#a6d42a" stroke="#222" stroke-width="0.6"/>
<rect x="729.6" y="349.90" width="11.1" height="12.30" fill="#7cbe2a" stroke="#222" stroke-width="0.6"/>
<rect x="729.6" y="362.20" width="11.1" height="12.30" fill="#58a22e" stroke="#222" stroke-width="0.6"/>
<rect x="729.6" y="374.50" width="11.1" height="12.30" fill="#4a9a3a" stroke="#222" stroke-width="0.6"/>
<rect x="729.6" y="386.80" width="11.1" height="12.30" fill="#58ba68" stroke="#222" stroke-width="0.6"/>
<rect x="729.6" y="399.10" width="11.1" height="12.30" fill="#70deb8" stroke="#222" stroke-width="0.6"/>
<rect x="729.6" y="411.40" width="11.1" height="12.30" fill="#4a9cf0" stroke="#222" stroke-width="0.6"/>
<rect x="729.6" y="423.70" width="11.1" height="12.30" fill="#3452f0" stroke="#222" stroke-width="0.6"/>
<rect x="729.6" y="436.00" width="11.1" height="12.30" fill="#1a1cf0" stroke="#222" stroke-width="0.6"/>
<rect x="729.6" y="448.30" width="11.1" height="12.30" fill="#1a18e8" stroke="#222" stroke-width="0.6"/>
<text x="755.5" y="206.40" text-anchor="middle" font-size="11.5" transform="translate(755.5,0) scale(0.88,1) translate(-755.5,0)">0.4</text>
<text x="755.5" y="231.00" text-anchor="middle" font-size="11.5" transform="translate(755.5,0) scale(0.88,1) translate(-755.5,0)">0.32</text>
<text x="755.5" y="255.60" text-anchor="middle" font-size="11.5" transform="translate(755.5,0) scale(0.88,1) translate(-755.5,0)">0.24</text>
<text x="755.5" y="280.20" text-anchor="middle" font-size="11.5" transform="translate(755.5,0) scale(0.88,1) translate(-755.5,0)">0.16</text>
<text x="755.5" y="304.80" text-anchor="middle" font-size="11.5" transform="translate(755.5,0) scale(0.88,1) translate(-755.5,0)">0.08</text>
<text x="755.5" y="329.40" text-anchor="middle" font-size="11.5" transform="translate(755.5,0) scale(0.88,1) translate(-755.5,0)">0</text>
<text x="755.5" y="354.00" text-anchor="middle" font-size="11.5" transform="translate(755.5,0) scale(0.88,1) translate(-755.5,0)">-0.08</text>
<text x="755.5" y="378.60" text-anchor="middle" font-size="11.5" transform="translate(755.5,0) scale(0.88,1) translate(-755.5,0)">-0.16</text>
<text x="755.5" y="403.20" text-anchor="middle" font-size="11.5" transform="translate(755.5,0) scale(0.88,1) translate(-755.5,0)">-0.24</text>
<text x="755.5" y="427.80" text-anchor="middle" font-size="11.5" transform="translate(755.5,0) scale(0.88,1) translate(-755.5,0)">-0.32</text>
<text x="755.5" y="452.40" text-anchor="middle" font-size="11.5" transform="translate(755.5,0) scale(0.88,1) translate(-755.5,0)">-0.4</text>
<text transform="translate(779,325.2) rotate(-90)" text-anchor="middle" font-size="15.85">Stream function (*10<tspan font-size="9" dy="-5.5">5</tspan><tspan dy="5.5"> m</tspan><tspan font-size="9" dy="-5.5">2</tspan><tspan dy="5.5"> s</tspan><tspan font-size="9" dy="-5.5">-1</tspan><tspan dy="5.5">)</tspan></text>
</svg></body></html>
